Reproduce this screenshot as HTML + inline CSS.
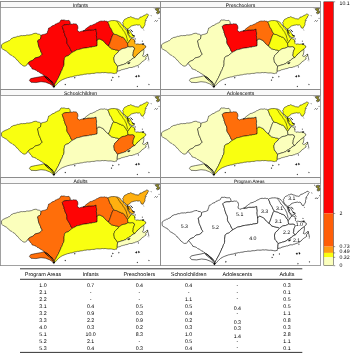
<!DOCTYPE html>
<html><head><meta charset="utf-8"><title>Figure</title>
<style>html,body{margin:0;padding:0;background:#fff}svg{display:block}text{text-rendering:geometricPrecision}</style></head><body>
<svg width="350" height="354" viewBox="0 0 350 354" font-family="'Liberation Sans', sans-serif">
<rect width="350" height="354" fill="#fff"/>
<g transform="translate(0.00,0.00)">
<g transform="translate(0.00,0.00)">
<g stroke="#000" stroke-width="0.50" stroke-linejoin="round">
<polygon fill="#F9FF10" points="1.5,44.8 3.0,43.6 3.9,43.0 5.0,42.6 6.0,41.9 7.2,41.8 8.2,40.9 9.4,40.7 10.4,39.7 11.3,38.6 12.5,38.1 13.7,37.4 15.1,37.3 16.3,36.9 17.5,36.3 18.8,36.4 20.0,35.9 21.3,35.6 22.6,35.7 23.9,35.5 25.1,35.7 26.4,35.1 27.6,35.0 28.9,35.1 30.2,34.8 31.5,34.6 32.7,34.0 33.9,33.5 35.2,33.3 36.5,33.2 37.2,34.0 38.3,34.1 39.8,34.4 40.9,35.4 41.0,36.6 40.7,37.7 40.5,38.8 39.6,39.5 38.6,40.0 37.7,40.7 37.7,41.8 38.1,42.8 38.3,43.9 38.4,45.1 38.7,46.2 39.1,47.3 39.6,48.3 40.1,49.5 40.6,50.7 40.9,52.0 41.7,53.0 42.2,54.2 41.3,55.2 40.2,56.2 39.1,57.0 38.0,57.3 36.9,57.5 35.8,57.8 34.7,58.3 33.8,59.3 32.9,60.2 31.6,60.7 30.3,61.3 29.1,62.0 28.1,63.3 27.2,64.0 26.8,65.1 25.9,65.8 24.1,66.2 22.7,65.6 21.5,64.5 20.3,63.7 19.3,62.5 18.4,61.4 17.7,60.4 16.6,59.8 16.0,58.7 15.1,57.9 14.2,57.1 13.1,56.6 12.3,55.8 11.3,55.2 10.1,54.7 9.2,53.9 8.3,53.0 7.5,52.0 6.3,51.1 5.0,50.5 3.8,49.7 2.6,49.1 1.6,48.2 1.6,47.1 1.5,45.9"/>
<polygon fill="#FE0404" points="40.9,35.4 42.1,34.8 43.5,34.4 44.8,34.2 46.1,33.7 47.3,33.1 47.4,31.8 48.0,30.6 48.3,29.4 48.6,28.1 49.8,27.7 50.9,27.0 51.8,26.1 53.0,25.6 54.4,25.3 55.3,24.1 56.7,23.7 57.7,23.1 58.9,22.8 59.9,22.1 60.3,20.9 61.1,19.9 62.6,20.1 64.1,19.9 65.5,20.4 66.6,20.5 67.8,20.5 68.9,20.3 69.9,21.6 70.4,23.3 69.8,24.2 68.6,24.6 67.3,24.5 66.0,24.6 64.7,24.9 63.5,25.2 62.3,26.5 62.6,27.8 63.1,29.0 63.5,30.2 64.0,31.3 64.0,32.4 64.5,33.5 64.8,34.6 65.2,35.8 65.6,36.9 66.3,37.9 66.7,39.0 66.9,40.5 66.8,42.0 67.1,43.4 67.8,44.7 68.6,45.9 69.4,47.1 70.0,48.4 70.6,49.7 71.1,51.0 72.5,52.3 71.3,53.1 70.1,54.0 69.1,55.0 68.1,55.8 66.8,56.1 65.7,56.7 64.7,57.5 64.4,58.6 64.4,59.6 64.1,60.7 64.0,62.2 64.1,63.6 63.9,65.1 63.7,66.3 62.9,67.2 62.6,68.4 62.2,69.5 61.7,70.6 61.0,71.7 60.7,72.9 60.1,73.9 59.7,75.1 59.0,76.2 58.6,77.4 57.9,78.6 57.3,79.7 56.6,80.8 56.1,82.1 55.3,83.3 54.7,84.6 54.4,85.8 53.9,86.9 53.8,85.4 53.6,84.0 52.9,82.6 51.7,81.5 50.7,80.8 49.9,79.8 48.9,79.1 47.9,78.4 46.8,77.6 45.7,76.8 44.8,75.8 43.5,75.2 42.5,74.1 41.0,73.5 39.8,72.7 38.6,71.8 37.1,71.3 36.0,70.2 34.8,69.7 33.5,69.3 32.2,69.0 31.6,67.5 30.3,66.4 29.8,65.2 28.7,64.4 28.1,63.3 29.1,62.0 30.3,61.3 31.6,60.7 32.9,60.2 33.8,59.3 34.7,58.3 35.8,57.8 36.9,57.5 38.0,57.3 39.1,57.0 40.2,56.2 41.3,55.2 42.2,54.2 41.7,53.0 40.9,52.0 40.6,50.7 40.1,49.5 39.6,48.3 39.1,47.3 38.7,46.2 38.4,45.1 38.3,43.9 38.1,42.8 37.7,41.8 37.7,40.7 38.6,40.0 39.6,39.5 40.5,38.8 40.7,37.7 41.0,36.6"/>
<polygon fill="#FE0404" points="69.8,24.2 71.1,24.1 72.3,24.2 73.6,23.7 74.8,23.9 76.1,23.9 77.0,24.7 77.6,25.8 77.9,27.1 77.9,28.4 77.4,29.6 77.6,30.9 78.6,31.3 79.3,32.1 80.5,31.5 81.7,31.2 83.0,30.9 84.6,30.7 86.2,30.6 87.7,30.1 89.3,29.9 90.8,30.0 92.2,29.8 93.7,29.8 94.9,29.4 96.1,29.1 96.2,30.3 96.3,31.5 96.6,32.7 96.6,34.2 96.4,35.6 96.6,37.1 96.7,38.2 96.9,39.4 97.0,40.5 97.2,42.2 97.1,43.5 97.2,44.8 96.9,46.0 95.4,46.3 94.0,46.6 92.5,46.7 91.3,47.2 89.9,47.1 88.7,47.6 87.4,47.7 86.2,47.9 84.9,48.0 83.6,48.2 82.4,48.4 81.4,48.8 80.3,49.1 79.3,49.4 78.2,49.6 77.1,49.8 76.1,50.2 75.0,51.0 73.7,51.6 72.5,52.3 71.1,51.0 70.6,49.7 70.0,48.4 69.4,47.1 68.6,45.9 67.8,44.7 67.1,43.4 66.8,42.0 66.9,40.5 66.7,39.0 66.3,37.9 65.6,36.9 65.2,35.8 64.8,34.6 64.5,33.5 64.0,32.4 64.0,31.3 63.5,30.2 63.1,29.0 62.6,27.8 62.3,26.5 63.5,25.2 64.7,24.9 66.0,24.6 67.3,24.5 68.6,24.6"/>
<polygon fill="#F9FF10" points="72.5,52.3 73.7,51.6 75.0,51.0 76.1,50.2 77.1,49.8 78.2,49.6 79.3,49.4 80.3,49.1 81.4,48.8 82.4,48.4 83.6,48.2 84.9,48.0 86.2,47.9 87.4,47.7 88.7,47.6 89.9,47.1 91.3,47.2 92.5,46.7 94.0,46.6 95.4,46.3 96.9,46.0 97.2,44.8 97.1,43.5 97.2,42.2 97.0,40.5 97.8,39.5 98.9,38.8 100.7,39.4 101.8,40.0 102.9,40.5 103.9,41.3 104.8,42.6 105.8,43.8 106.7,44.5 107.6,45.3 108.5,46.0 109.6,46.8 110.4,48.0 111.5,48.8 112.5,49.0 113.4,49.4 114.5,49.5 115.5,49.9 116.6,50.0 117.8,50.3 118.9,51.0 118.0,52.0 117.3,53.0 116.3,53.7 115.5,54.6 114.6,55.5 114.4,56.6 113.9,57.7 113.9,58.8 114.2,60.4 114.4,62.0 115.1,63.0 116.0,63.8 116.7,65.1 117.6,66.2 117.3,69.0 117.2,71.3 116.8,72.2 116.6,73.2 115.5,73.2 114.5,73.6 112.9,73.3 111.4,73.0 110.1,72.9 108.9,73.0 107.6,72.9 106.4,72.7 105.1,72.5 103.7,72.7 102.3,72.5 100.8,72.8 99.4,72.9 98.0,72.8 96.6,72.8 95.3,73.1 94.0,73.4 92.6,73.4 91.3,73.5 90.0,73.9 88.6,73.9 87.3,73.8 86.0,74.2 84.8,74.2 83.6,74.4 82.4,74.8 81.2,74.9 80.0,75.0 78.9,75.4 77.7,75.3 76.5,75.7 75.4,75.9 74.1,76.1 72.9,76.6 71.6,76.9 70.3,77.0 69.1,77.4 67.8,77.6 66.6,78.1 65.3,78.5 64.1,79.0 62.8,79.5 61.5,80.2 60.3,80.9 59.5,81.7 58.6,82.4 57.8,83.2 56.9,84.2 56.0,85.2 55.1,86.2 53.9,86.9 54.4,85.8 54.7,84.6 55.3,83.3 56.1,82.1 56.6,80.8 57.3,79.7 57.9,78.6 58.6,77.4 59.0,76.2 59.7,75.1 60.1,73.9 60.7,72.9 61.0,71.7 61.7,70.6 62.2,69.5 62.6,68.4 62.9,67.2 63.7,66.3 63.9,65.1 64.1,63.6 64.0,62.2 64.1,60.7 64.4,59.6 64.4,58.6 64.7,57.5 65.7,56.7 66.8,56.1 68.1,55.8 69.1,55.0 70.1,54.0 71.3,53.1"/>
<polygon fill="#FE0404" points="83.0,30.9 84.1,30.7 85.0,30.0 85.7,28.8 86.9,28.1 87.9,27.2 89.1,26.5 90.1,25.6 91.4,25.4 92.6,25.0 93.8,24.3 95.2,23.9 96.3,22.9 97.6,22.5 98.8,21.8 100.1,21.2 101.6,21.0 103.1,21.2 104.5,20.8 105.7,21.3 107.0,21.2 107.9,22.0 108.5,23.4 109.1,24.8 109.5,26.2 110.0,27.3 110.8,28.3 111.4,29.4 111.9,30.4 112.3,31.5 112.9,32.5 113.7,33.8 112.7,35.0 112.1,36.3 111.7,37.6 111.2,38.8 110.8,40.1 110.4,41.3 109.9,42.6 109.5,43.8 108.9,44.9 108.5,46.0 107.6,45.3 106.7,44.5 105.8,43.8 104.8,42.6 103.9,41.3 102.9,40.5 101.8,40.0 100.7,39.4 98.9,38.8 97.8,39.5 97.0,40.5 96.9,39.4 96.7,38.2 96.6,37.1 96.4,35.6 96.6,34.2 96.6,32.7 96.3,31.5 96.2,30.3 96.1,29.1 94.9,29.4 93.7,29.8 92.2,29.8 90.8,30.0 89.3,29.9 87.7,30.1 86.2,30.6 84.6,30.7"/>
<polygon fill="#FF6E0A" points="113.7,33.8 115.1,34.4 116.6,34.6 117.8,35.2 119.0,35.9 120.3,36.3 121.3,36.9 122.5,37.1 123.5,37.7 124.4,38.5 125.0,39.5 125.7,40.5 126.2,41.5 127.1,42.3 127.6,43.4 127.8,45.2 128.0,46.6 127.1,47.3 126.0,47.8 124.7,48.3 123.3,48.4 122.0,48.8 120.5,49.8 119.6,50.3 118.9,51.0 117.8,50.3 116.6,50.0 115.5,49.9 114.5,49.5 113.4,49.4 112.5,49.0 111.5,48.8 110.4,48.0 109.6,46.8 108.5,46.0 108.9,44.9 109.5,43.8 109.9,42.6 110.4,41.3 110.8,40.1 111.2,38.8 111.7,37.6 112.1,36.3 112.7,35.0"/>
<polygon fill="#F9FF10" points="107.9,22.0 108.8,21.3 110.0,21.0 111.4,20.6 112.8,20.6 114.4,20.5 115.9,20.8 117.2,20.9 118.5,21.4 119.4,21.9 120.3,22.5 120.9,23.5 121.7,24.3 122.2,25.3 123.4,26.2 124.1,27.5 125.0,28.6 126.1,29.5 127.0,30.6 127.4,31.9 127.8,33.2 128.2,34.7 129.2,35.9 129.6,37.0 130.3,38.0 131.4,38.6 130.0,40.0 128.8,42.0 127.6,43.4 127.1,42.3 126.2,41.5 125.7,40.5 125.0,39.5 124.4,38.5 123.5,37.7 122.5,37.1 121.3,36.9 120.3,36.3 119.0,35.9 117.8,35.2 116.6,34.6 115.1,34.4 113.7,33.8 112.9,32.5 112.3,31.5 111.9,30.4 111.4,29.4 110.8,28.3 110.0,27.3 109.5,26.2 109.1,24.8 108.5,23.4"/>
<polygon fill="#FBFFBC" points="128.0,46.6 129.0,46.7 130.0,46.8 131.2,46.7 132.4,46.6 134.0,47.3 134.6,48.0 134.5,49.1 134.0,50.0 133.5,51.3 133.2,52.6 133.2,53.9 132.8,55.2 133.5,56.6 134.8,57.5 133.2,58.2 131.6,59.2 130.4,60.6 129.3,61.0 128.4,61.8 126.8,62.4 125.6,63.8 124.4,64.0 123.2,64.6 122.0,64.8 120.9,65.2 119.8,65.5 118.7,65.9 117.6,66.2 116.7,65.1 116.0,63.8 115.1,63.0 114.4,62.0 114.2,60.4 113.9,58.8 113.9,57.7 114.4,56.6 114.6,55.5 115.5,54.6 116.3,53.7 117.3,53.0 118.0,52.0 118.9,51.0 119.6,50.3 120.5,49.8 122.0,48.8 123.3,48.4 124.7,48.3 126.0,47.8 127.1,47.3"/>
<polygon fill="#FBFFBC" points="117.6,66.2 118.7,65.9 119.8,65.5 120.9,65.2 122.0,64.8 123.2,64.6 124.4,64.0 125.6,63.8 126.8,62.4 128.4,61.8 129.3,61.0 130.4,60.6 131.6,59.2 133.2,58.2 134.8,57.5 135.7,56.3 136.8,55.2 137.6,54.0 138.8,53.2 139.9,52.3 140.8,51.2 141.8,50.5 142.8,49.8 143.8,49.2 143.9,50.4 143.8,51.6 143.7,52.8 143.4,54.0 143.2,55.0 142.4,55.8 143.8,56.6 145.0,56.0 146.0,55.2 146.7,54.4 147.8,54.2 147.7,55.2 147.0,56.0 146.5,56.9 145.6,57.6 146.2,59.0 144.8,59.8 143.9,60.7 142.8,61.2 142.1,62.0 141.2,62.6 140.5,63.7 139.4,64.4 138.2,65.3 136.8,65.8 135.3,66.2 134.3,66.8 133.1,66.9 132.1,67.5 130.9,67.5 129.6,67.5 128.3,68.0 127.1,68.6 125.8,68.6 124.7,69.1 123.6,69.3 122.5,69.6 121.4,69.8 120.1,70.6 118.5,70.9 117.2,71.3 117.3,69.0"/>
<polygon fill="#FFB010" points="127.6,43.4 128.8,42.0 130.0,40.0 131.4,38.6 132.7,38.9 134.0,39.2 134.5,40.2 135.2,41.2 134.9,42.2 134.8,43.2 136.0,44.4 136.9,43.9 138.0,44.0 139.6,44.3 141.2,44.0 142.5,44.5 143.8,44.6 144.6,45.5 145.8,46.0 145.6,47.6 144.5,48.2 143.8,49.2 142.8,49.8 141.8,50.5 140.8,51.2 139.9,52.3 138.8,53.2 137.6,54.0 136.8,55.2 135.7,56.3 134.8,57.5 133.5,56.6 132.8,55.2 133.2,53.9 133.2,52.6 133.5,51.3 134.0,50.0 134.5,49.1 134.6,48.0 134.0,47.3 132.4,46.6 131.2,46.7 130.0,46.8 129.0,46.7 128.0,46.6 127.8,45.2"/>
<polygon fill="#F9FF10" points="122.6,22.3 123.6,21.4 123.9,20.1 124.7,19.3 125.8,18.8 126.9,18.4 127.9,17.5 129.3,17.5 130.3,16.7 131.4,17.0 132.4,17.6 134.0,17.9 135.4,18.7 136.8,18.8 138.2,19.1 139.4,18.3 140.1,17.1 141.5,16.9 142.7,16.3 143.9,15.5 145.3,15.0 146.2,14.2 147.4,13.9 148.7,15.2 147.8,16.0 147.5,17.0 147.0,18.0 146.0,19.2 145.3,20.6 145.4,21.9 144.9,23.1 145.0,24.6 144.4,25.9 143.6,27.0 143.1,28.3 141.4,27.9 140.9,26.9 140.6,25.8 139.3,24.8 138.0,25.2 136.7,24.7 135.4,25.1 134.1,25.2 132.9,25.6 131.5,26.0 130.3,26.8 129.7,27.8 128.6,28.4 126.9,29.2 126.0,27.9 124.7,27.0 123.6,25.8 123.0,24.3 123.1,23.2"/>
<polygon fill="#FE0404" points="29.4,80.4 30.7,78.6 35.4,77.6 40.4,76.7 44.2,75.7 47.9,78.4 51.7,81.5 53.6,84.0 53.9,86.9 53.0,86.1 49.8,83.9 45.4,82.2 41.0,81.7 36.0,82.6 31.0,82.3"/>
<path fill="none" stroke-width="0.75" d="M44.3,76.2 L46.8,78.9 L49.2,80.6 L51.6,83 L53.3,85.2 M45.6,76.4 L48.2,78.2 L50.4,80.6 L52.8,82.6 M53.9,85.6 L53.9,88.1 M52.6,86.6 L55,86.4"/>
<polyline fill="none" points="116.8,21.2 117.5,22.2 118.3,23.2 118.9,24.4 119.7,25.4 120.2,26.6 121.3,27.4 122.1,28.4 122.7,29.6 123.3,30.6 124.1,31.5 124.8,32.5 125.2,33.6 125.9,34.8 126.4,36.0 126.6,37.3 127.1,38.6 127.3,39.9 127.5,41.2"/>
<path fill="#F9FF10" d="M127.3,29.8 L129.7,30.3 L131.7,33.7 L134.3,37 L132,37.8 L129.4,35.8 L127.8,33.2 Z"/>
<path fill="none" stroke-width="0.8" d="M127.2,29.2 L128.3,31.5 L129.2,33.8 M130.6,29.5 L132.8,32.0 M131.9,34.8 L135,36.1 M134.6,38.2 L135.8,39.2 M134.2,40.8 L135,41.6"/>
<path fill="#222" stroke-width="0.3" d="M127.6,63.4 L128.8,62.4 L130.2,62.4 L129.6,63.4 L128.2,64 Z M142.2,43.5 l1.6,0 l0.4,0.8 l-1.8,0.3z M138,66.6 l0.8,0.3 l-0.6,0.5z M142.1,40.8 l0.7,0.3 l-0.5,0.5z"/>
<path fill="none" d="M147.4,54.3 L148.4,57.5 L148.9,60.3 M148,60.6 L148.6,61.2"/>
<path fill="#8a8420" stroke="#444" stroke-width="0.7" d="M155.6,8.4 L157.4,7.9 L159.5,8.4 L158.4,10.0 L159.8,11.4 L159.2,13.2 L157.4,13.8 L156.2,12.8 L157.4,11.6 L156.6,10.4 L155.4,9.8 Z"/>
<path fill="none" d="M154.4,21.6 L155.6,20.4 L156.6,21.5 L157.8,20.2 M151,15.2 L151.4,16.2 M153.5,7.8 L154.6,8.2 M158.5,18.4 L159.6,18.4 M146,20 L146.3,21 M143.6,29.6 L143.9,30.4"/>
<path fill="#000" stroke-width="0.3" d="M112.5,76.9 l1,0.6 l-1,0.6z M111.3,79.6 l0.8,0.6 l-0.9,0.4z M118.6,76.2 l0.8,0.5 l-0.8,0.5z M135.3,76.5 l1,-1 l0.8,0.6 l-0.6,1.2z M138.2,75.2 l1,0.2 l0.4,1 l-1,0.6z M137,86 l0.9,0.4 l-0.7,0.6z M148.6,84 l0.8,0.6 l-0.5,0.5z M64.9,84 l1,0.5 l-0.9,0.6z M74.4,77.2 l1,0.5 l-1,0.5z"/>
</g>
</g>
<rect x="0.50" y="1.60" width="160.00" height="5.90" fill="#f9f9f9" stroke="#8a8a8a" stroke-width="0.8"/>
<rect x="0.50" y="1.60" width="160.00" height="88.00" fill="none" stroke="#8a8a8a" stroke-width="0.8"/>
<text x="80.5" y="6.6" font-size="5.05" text-anchor="middle" fill="#000">Infants</text>
</g>
<g transform="translate(160.00,0.00)">
<g transform="translate(0.00,0.00)">
<g stroke="#000" stroke-width="0.50" stroke-linejoin="round">
<polygon fill="#FBFFBC" points="1.5,44.8 3.0,43.6 3.9,43.0 5.0,42.6 6.0,41.9 7.2,41.8 8.2,40.9 9.4,40.7 10.4,39.7 11.3,38.6 12.5,38.1 13.7,37.4 15.1,37.3 16.3,36.9 17.5,36.3 18.8,36.4 20.0,35.9 21.3,35.6 22.6,35.7 23.9,35.5 25.1,35.7 26.4,35.1 27.6,35.0 28.9,35.1 30.2,34.8 31.5,34.6 32.7,34.0 33.9,33.5 35.2,33.3 36.5,33.2 37.2,34.0 38.3,34.1 39.8,34.4 40.9,35.4 41.0,36.6 40.7,37.7 40.5,38.8 39.6,39.5 38.6,40.0 37.7,40.7 37.7,41.8 38.1,42.8 38.3,43.9 38.4,45.1 38.7,46.2 39.1,47.3 39.6,48.3 40.1,49.5 40.6,50.7 40.9,52.0 41.7,53.0 42.2,54.2 41.3,55.2 40.2,56.2 39.1,57.0 38.0,57.3 36.9,57.5 35.8,57.8 34.7,58.3 33.8,59.3 32.9,60.2 31.6,60.7 30.3,61.3 29.1,62.0 28.1,63.3 27.2,64.0 26.8,65.1 25.9,65.8 24.1,66.2 22.7,65.6 21.5,64.5 20.3,63.7 19.3,62.5 18.4,61.4 17.7,60.4 16.6,59.8 16.0,58.7 15.1,57.9 14.2,57.1 13.1,56.6 12.3,55.8 11.3,55.2 10.1,54.7 9.2,53.9 8.3,53.0 7.5,52.0 6.3,51.1 5.0,50.5 3.8,49.7 2.6,49.1 1.6,48.2 1.6,47.1 1.5,45.9"/>
<polygon fill="#FBFFBC" points="40.9,35.4 42.1,34.8 43.5,34.4 44.8,34.2 46.1,33.7 47.3,33.1 47.4,31.8 48.0,30.6 48.3,29.4 48.6,28.1 49.8,27.7 50.9,27.0 51.8,26.1 53.0,25.6 54.4,25.3 55.3,24.1 56.7,23.7 57.7,23.1 58.9,22.8 59.9,22.1 60.3,20.9 61.1,19.9 62.6,20.1 64.1,19.9 65.5,20.4 66.6,20.5 67.8,20.5 68.9,20.3 69.9,21.6 70.4,23.3 69.8,24.2 68.6,24.6 67.3,24.5 66.0,24.6 64.7,24.9 63.5,25.2 62.3,26.5 62.6,27.8 63.1,29.0 63.5,30.2 64.0,31.3 64.0,32.4 64.5,33.5 64.8,34.6 65.2,35.8 65.6,36.9 66.3,37.9 66.7,39.0 66.9,40.5 66.8,42.0 67.1,43.4 67.8,44.7 68.6,45.9 69.4,47.1 70.0,48.4 70.6,49.7 71.1,51.0 72.5,52.3 71.3,53.1 70.1,54.0 69.1,55.0 68.1,55.8 66.8,56.1 65.7,56.7 64.7,57.5 64.4,58.6 64.4,59.6 64.1,60.7 64.0,62.2 64.1,63.6 63.9,65.1 63.7,66.3 62.9,67.2 62.6,68.4 62.2,69.5 61.7,70.6 61.0,71.7 60.7,72.9 60.1,73.9 59.7,75.1 59.0,76.2 58.6,77.4 57.9,78.6 57.3,79.7 56.6,80.8 56.1,82.1 55.3,83.3 54.7,84.6 54.4,85.8 53.9,86.9 53.8,85.4 53.6,84.0 52.9,82.6 51.7,81.5 50.7,80.8 49.9,79.8 48.9,79.1 47.9,78.4 46.8,77.6 45.7,76.8 44.8,75.8 43.5,75.2 42.5,74.1 41.0,73.5 39.8,72.7 38.6,71.8 37.1,71.3 36.0,70.2 34.8,69.7 33.5,69.3 32.2,69.0 31.6,67.5 30.3,66.4 29.8,65.2 28.7,64.4 28.1,63.3 29.1,62.0 30.3,61.3 31.6,60.7 32.9,60.2 33.8,59.3 34.7,58.3 35.8,57.8 36.9,57.5 38.0,57.3 39.1,57.0 40.2,56.2 41.3,55.2 42.2,54.2 41.7,53.0 40.9,52.0 40.6,50.7 40.1,49.5 39.6,48.3 39.1,47.3 38.7,46.2 38.4,45.1 38.3,43.9 38.1,42.8 37.7,41.8 37.7,40.7 38.6,40.0 39.6,39.5 40.5,38.8 40.7,37.7 41.0,36.6"/>
<polygon fill="#FE0404" points="69.8,24.2 71.1,24.1 72.3,24.2 73.6,23.7 74.8,23.9 76.1,23.9 77.0,24.7 77.6,25.8 77.9,27.1 77.9,28.4 77.4,29.6 77.6,30.9 78.6,31.3 79.3,32.1 80.5,31.5 81.7,31.2 83.0,30.9 84.6,30.7 86.2,30.6 87.7,30.1 89.3,29.9 90.8,30.0 92.2,29.8 93.7,29.8 94.9,29.4 96.1,29.1 96.2,30.3 96.3,31.5 96.6,32.7 96.6,34.2 96.4,35.6 96.6,37.1 96.7,38.2 96.9,39.4 97.0,40.5 97.2,42.2 97.1,43.5 97.2,44.8 96.9,46.0 95.4,46.3 94.0,46.6 92.5,46.7 91.3,47.2 89.9,47.1 88.7,47.6 87.4,47.7 86.2,47.9 84.9,48.0 83.6,48.2 82.4,48.4 81.4,48.8 80.3,49.1 79.3,49.4 78.2,49.6 77.1,49.8 76.1,50.2 75.0,51.0 73.7,51.6 72.5,52.3 71.1,51.0 70.6,49.7 70.0,48.4 69.4,47.1 68.6,45.9 67.8,44.7 67.1,43.4 66.8,42.0 66.9,40.5 66.7,39.0 66.3,37.9 65.6,36.9 65.2,35.8 64.8,34.6 64.5,33.5 64.0,32.4 64.0,31.3 63.5,30.2 63.1,29.0 62.6,27.8 62.3,26.5 63.5,25.2 64.7,24.9 66.0,24.6 67.3,24.5 68.6,24.6"/>
<polygon fill="#FBFFBC" points="72.5,52.3 73.7,51.6 75.0,51.0 76.1,50.2 77.1,49.8 78.2,49.6 79.3,49.4 80.3,49.1 81.4,48.8 82.4,48.4 83.6,48.2 84.9,48.0 86.2,47.9 87.4,47.7 88.7,47.6 89.9,47.1 91.3,47.2 92.5,46.7 94.0,46.6 95.4,46.3 96.9,46.0 97.2,44.8 97.1,43.5 97.2,42.2 97.0,40.5 97.8,39.5 98.9,38.8 100.7,39.4 101.8,40.0 102.9,40.5 103.9,41.3 104.8,42.6 105.8,43.8 106.7,44.5 107.6,45.3 108.5,46.0 109.6,46.8 110.4,48.0 111.5,48.8 112.5,49.0 113.4,49.4 114.5,49.5 115.5,49.9 116.6,50.0 117.8,50.3 118.9,51.0 118.0,52.0 117.3,53.0 116.3,53.7 115.5,54.6 114.6,55.5 114.4,56.6 113.9,57.7 113.9,58.8 114.2,60.4 114.4,62.0 115.1,63.0 116.0,63.8 116.7,65.1 117.6,66.2 117.3,69.0 117.2,71.3 116.8,72.2 116.6,73.2 115.5,73.2 114.5,73.6 112.9,73.3 111.4,73.0 110.1,72.9 108.9,73.0 107.6,72.9 106.4,72.7 105.1,72.5 103.7,72.7 102.3,72.5 100.8,72.8 99.4,72.9 98.0,72.8 96.6,72.8 95.3,73.1 94.0,73.4 92.6,73.4 91.3,73.5 90.0,73.9 88.6,73.9 87.3,73.8 86.0,74.2 84.8,74.2 83.6,74.4 82.4,74.8 81.2,74.9 80.0,75.0 78.9,75.4 77.7,75.3 76.5,75.7 75.4,75.9 74.1,76.1 72.9,76.6 71.6,76.9 70.3,77.0 69.1,77.4 67.8,77.6 66.6,78.1 65.3,78.5 64.1,79.0 62.8,79.5 61.5,80.2 60.3,80.9 59.5,81.7 58.6,82.4 57.8,83.2 56.9,84.2 56.0,85.2 55.1,86.2 53.9,86.9 54.4,85.8 54.7,84.6 55.3,83.3 56.1,82.1 56.6,80.8 57.3,79.7 57.9,78.6 58.6,77.4 59.0,76.2 59.7,75.1 60.1,73.9 60.7,72.9 61.0,71.7 61.7,70.6 62.2,69.5 62.6,68.4 62.9,67.2 63.7,66.3 63.9,65.1 64.1,63.6 64.0,62.2 64.1,60.7 64.4,59.6 64.4,58.6 64.7,57.5 65.7,56.7 66.8,56.1 68.1,55.8 69.1,55.0 70.1,54.0 71.3,53.1"/>
<polygon fill="#FF6E0A" points="83.0,30.9 84.1,30.7 85.0,30.0 85.7,28.8 86.9,28.1 87.9,27.2 89.1,26.5 90.1,25.6 91.4,25.4 92.6,25.0 93.8,24.3 95.2,23.9 96.3,22.9 97.6,22.5 98.8,21.8 100.1,21.2 101.6,21.0 103.1,21.2 104.5,20.8 105.7,21.3 107.0,21.2 107.9,22.0 108.5,23.4 109.1,24.8 109.5,26.2 110.0,27.3 110.8,28.3 111.4,29.4 111.9,30.4 112.3,31.5 112.9,32.5 113.7,33.8 112.7,35.0 112.1,36.3 111.7,37.6 111.2,38.8 110.8,40.1 110.4,41.3 109.9,42.6 109.5,43.8 108.9,44.9 108.5,46.0 107.6,45.3 106.7,44.5 105.8,43.8 104.8,42.6 103.9,41.3 102.9,40.5 101.8,40.0 100.7,39.4 98.9,38.8 97.8,39.5 97.0,40.5 96.9,39.4 96.7,38.2 96.6,37.1 96.4,35.6 96.6,34.2 96.6,32.7 96.3,31.5 96.2,30.3 96.1,29.1 94.9,29.4 93.7,29.8 92.2,29.8 90.8,30.0 89.3,29.9 87.7,30.1 86.2,30.6 84.6,30.7"/>
<polygon fill="#F9FF10" points="113.7,33.8 115.1,34.4 116.6,34.6 117.8,35.2 119.0,35.9 120.3,36.3 121.3,36.9 122.5,37.1 123.5,37.7 124.4,38.5 125.0,39.5 125.7,40.5 126.2,41.5 127.1,42.3 127.6,43.4 127.8,45.2 128.0,46.6 127.1,47.3 126.0,47.8 124.7,48.3 123.3,48.4 122.0,48.8 120.5,49.8 119.6,50.3 118.9,51.0 117.8,50.3 116.6,50.0 115.5,49.9 114.5,49.5 113.4,49.4 112.5,49.0 111.5,48.8 110.4,48.0 109.6,46.8 108.5,46.0 108.9,44.9 109.5,43.8 109.9,42.6 110.4,41.3 110.8,40.1 111.2,38.8 111.7,37.6 112.1,36.3 112.7,35.0"/>
<polygon fill="#F9FF10" points="107.9,22.0 108.8,21.3 110.0,21.0 111.4,20.6 112.8,20.6 114.4,20.5 115.9,20.8 117.2,20.9 118.5,21.4 119.4,21.9 120.3,22.5 120.9,23.5 121.7,24.3 122.2,25.3 123.4,26.2 124.1,27.5 125.0,28.6 126.1,29.5 127.0,30.6 127.4,31.9 127.8,33.2 128.2,34.7 129.2,35.9 129.6,37.0 130.3,38.0 131.4,38.6 130.0,40.0 128.8,42.0 127.6,43.4 127.1,42.3 126.2,41.5 125.7,40.5 125.0,39.5 124.4,38.5 123.5,37.7 122.5,37.1 121.3,36.9 120.3,36.3 119.0,35.9 117.8,35.2 116.6,34.6 115.1,34.4 113.7,33.8 112.9,32.5 112.3,31.5 111.9,30.4 111.4,29.4 110.8,28.3 110.0,27.3 109.5,26.2 109.1,24.8 108.5,23.4"/>
<polygon fill="#FBFFBC" points="128.0,46.6 129.0,46.7 130.0,46.8 131.2,46.7 132.4,46.6 134.0,47.3 134.6,48.0 134.5,49.1 134.0,50.0 133.5,51.3 133.2,52.6 133.2,53.9 132.8,55.2 133.5,56.6 134.8,57.5 133.2,58.2 131.6,59.2 130.4,60.6 129.3,61.0 128.4,61.8 126.8,62.4 125.6,63.8 124.4,64.0 123.2,64.6 122.0,64.8 120.9,65.2 119.8,65.5 118.7,65.9 117.6,66.2 116.7,65.1 116.0,63.8 115.1,63.0 114.4,62.0 114.2,60.4 113.9,58.8 113.9,57.7 114.4,56.6 114.6,55.5 115.5,54.6 116.3,53.7 117.3,53.0 118.0,52.0 118.9,51.0 119.6,50.3 120.5,49.8 122.0,48.8 123.3,48.4 124.7,48.3 126.0,47.8 127.1,47.3"/>
<polygon fill="#FBFFBC" points="117.6,66.2 118.7,65.9 119.8,65.5 120.9,65.2 122.0,64.8 123.2,64.6 124.4,64.0 125.6,63.8 126.8,62.4 128.4,61.8 129.3,61.0 130.4,60.6 131.6,59.2 133.2,58.2 134.8,57.5 135.7,56.3 136.8,55.2 137.6,54.0 138.8,53.2 139.9,52.3 140.8,51.2 141.8,50.5 142.8,49.8 143.8,49.2 143.9,50.4 143.8,51.6 143.7,52.8 143.4,54.0 143.2,55.0 142.4,55.8 143.8,56.6 145.0,56.0 146.0,55.2 146.7,54.4 147.8,54.2 147.7,55.2 147.0,56.0 146.5,56.9 145.6,57.6 146.2,59.0 144.8,59.8 143.9,60.7 142.8,61.2 142.1,62.0 141.2,62.6 140.5,63.7 139.4,64.4 138.2,65.3 136.8,65.8 135.3,66.2 134.3,66.8 133.1,66.9 132.1,67.5 130.9,67.5 129.6,67.5 128.3,68.0 127.1,68.6 125.8,68.6 124.7,69.1 123.6,69.3 122.5,69.6 121.4,69.8 120.1,70.6 118.5,70.9 117.2,71.3 117.3,69.0"/>
<polygon fill="#F9FF10" points="127.6,43.4 128.8,42.0 130.0,40.0 131.4,38.6 132.7,38.9 134.0,39.2 134.5,40.2 135.2,41.2 134.9,42.2 134.8,43.2 136.0,44.4 136.9,43.9 138.0,44.0 139.6,44.3 141.2,44.0 142.5,44.5 143.8,44.6 144.6,45.5 145.8,46.0 145.6,47.6 144.5,48.2 143.8,49.2 142.8,49.8 141.8,50.5 140.8,51.2 139.9,52.3 138.8,53.2 137.6,54.0 136.8,55.2 135.7,56.3 134.8,57.5 133.5,56.6 132.8,55.2 133.2,53.9 133.2,52.6 133.5,51.3 134.0,50.0 134.5,49.1 134.6,48.0 134.0,47.3 132.4,46.6 131.2,46.7 130.0,46.8 129.0,46.7 128.0,46.6 127.8,45.2"/>
<polygon fill="#F9FF10" points="122.6,22.3 123.6,21.4 123.9,20.1 124.7,19.3 125.8,18.8 126.9,18.4 127.9,17.5 129.3,17.5 130.3,16.7 131.4,17.0 132.4,17.6 134.0,17.9 135.4,18.7 136.8,18.8 138.2,19.1 139.4,18.3 140.1,17.1 141.5,16.9 142.7,16.3 143.9,15.5 145.3,15.0 146.2,14.2 147.4,13.9 148.7,15.2 147.8,16.0 147.5,17.0 147.0,18.0 146.0,19.2 145.3,20.6 145.4,21.9 144.9,23.1 145.0,24.6 144.4,25.9 143.6,27.0 143.1,28.3 141.4,27.9 140.9,26.9 140.6,25.8 139.3,24.8 138.0,25.2 136.7,24.7 135.4,25.1 134.1,25.2 132.9,25.6 131.5,26.0 130.3,26.8 129.7,27.8 128.6,28.4 126.9,29.2 126.0,27.9 124.7,27.0 123.6,25.8 123.0,24.3 123.1,23.2"/>
<polygon fill="#FBFFBC" points="29.4,80.4 30.7,78.6 35.4,77.6 40.4,76.7 44.2,75.7 47.9,78.4 51.7,81.5 53.6,84.0 53.9,86.9 53.0,86.1 49.8,83.9 45.4,82.2 41.0,81.7 36.0,82.6 31.0,82.3"/>
<path fill="none" stroke-width="0.75" d="M44.3,76.2 L46.8,78.9 L49.2,80.6 L51.6,83 L53.3,85.2 M45.6,76.4 L48.2,78.2 L50.4,80.6 L52.8,82.6 M53.9,85.6 L53.9,88.1 M52.6,86.6 L55,86.4"/>
<polyline fill="none" points="116.8,21.2 117.5,22.2 118.3,23.2 118.9,24.4 119.7,25.4 120.2,26.6 121.3,27.4 122.1,28.4 122.7,29.6 123.3,30.6 124.1,31.5 124.8,32.5 125.2,33.6 125.9,34.8 126.4,36.0 126.6,37.3 127.1,38.6 127.3,39.9 127.5,41.2"/>
<path fill="#F9FF10" d="M127.3,29.8 L129.7,30.3 L131.7,33.7 L134.3,37 L132,37.8 L129.4,35.8 L127.8,33.2 Z"/>
<path fill="none" stroke-width="0.8" d="M127.2,29.2 L128.3,31.5 L129.2,33.8 M130.6,29.5 L132.8,32.0 M131.9,34.8 L135,36.1 M134.6,38.2 L135.8,39.2 M134.2,40.8 L135,41.6"/>
<path fill="#222" stroke-width="0.3" d="M127.6,63.4 L128.8,62.4 L130.2,62.4 L129.6,63.4 L128.2,64 Z M142.2,43.5 l1.6,0 l0.4,0.8 l-1.8,0.3z M138,66.6 l0.8,0.3 l-0.6,0.5z M142.1,40.8 l0.7,0.3 l-0.5,0.5z"/>
<path fill="none" d="M147.4,54.3 L148.4,57.5 L148.9,60.3 M148,60.6 L148.6,61.2"/>
<path fill="#8a8420" stroke="#444" stroke-width="0.7" d="M155.6,8.4 L157.4,7.9 L159.5,8.4 L158.4,10.0 L159.8,11.4 L159.2,13.2 L157.4,13.8 L156.2,12.8 L157.4,11.6 L156.6,10.4 L155.4,9.8 Z"/>
<path fill="none" d="M154.4,21.6 L155.6,20.4 L156.6,21.5 L157.8,20.2 M151,15.2 L151.4,16.2 M153.5,7.8 L154.6,8.2 M158.5,18.4 L159.6,18.4 M146,20 L146.3,21 M143.6,29.6 L143.9,30.4"/>
<path fill="#000" stroke-width="0.3" d="M112.5,76.9 l1,0.6 l-1,0.6z M111.3,79.6 l0.8,0.6 l-0.9,0.4z M118.6,76.2 l0.8,0.5 l-0.8,0.5z M135.3,76.5 l1,-1 l0.8,0.6 l-0.6,1.2z M138.2,75.2 l1,0.2 l0.4,1 l-1,0.6z M137,86 l0.9,0.4 l-0.7,0.6z M148.6,84 l0.8,0.6 l-0.5,0.5z M64.9,84 l1,0.5 l-0.9,0.6z M74.4,77.2 l1,0.5 l-1,0.5z"/>
</g>
</g>
<rect x="0.50" y="1.60" width="160.00" height="5.90" fill="#f9f9f9" stroke="#8a8a8a" stroke-width="0.8"/>
<rect x="0.50" y="1.60" width="160.00" height="88.00" fill="none" stroke="#8a8a8a" stroke-width="0.8"/>
<text x="80.5" y="6.6" font-size="5.05" text-anchor="middle" fill="#000">Preschoolers</text>
</g>
<g transform="translate(0.00,88.00)">
<g transform="translate(0.00,0.00)">
<g stroke="#000" stroke-width="0.50" stroke-linejoin="round">
<polygon fill="#F9FF10" points="1.5,44.8 3.0,43.6 3.9,43.0 5.0,42.6 6.0,41.9 7.2,41.8 8.2,40.9 9.4,40.7 10.4,39.7 11.3,38.6 12.5,38.1 13.7,37.4 15.1,37.3 16.3,36.9 17.5,36.3 18.8,36.4 20.0,35.9 21.3,35.6 22.6,35.7 23.9,35.5 25.1,35.7 26.4,35.1 27.6,35.0 28.9,35.1 30.2,34.8 31.5,34.6 32.7,34.0 33.9,33.5 35.2,33.3 36.5,33.2 37.2,34.0 38.3,34.1 39.8,34.4 40.9,35.4 41.0,36.6 40.7,37.7 40.5,38.8 39.6,39.5 38.6,40.0 37.7,40.7 37.7,41.8 38.1,42.8 38.3,43.9 38.4,45.1 38.7,46.2 39.1,47.3 39.6,48.3 40.1,49.5 40.6,50.7 40.9,52.0 41.7,53.0 42.2,54.2 41.3,55.2 40.2,56.2 39.1,57.0 38.0,57.3 36.9,57.5 35.8,57.8 34.7,58.3 33.8,59.3 32.9,60.2 31.6,60.7 30.3,61.3 29.1,62.0 28.1,63.3 27.2,64.0 26.8,65.1 25.9,65.8 24.1,66.2 22.7,65.6 21.5,64.5 20.3,63.7 19.3,62.5 18.4,61.4 17.7,60.4 16.6,59.8 16.0,58.7 15.1,57.9 14.2,57.1 13.1,56.6 12.3,55.8 11.3,55.2 10.1,54.7 9.2,53.9 8.3,53.0 7.5,52.0 6.3,51.1 5.0,50.5 3.8,49.7 2.6,49.1 1.6,48.2 1.6,47.1 1.5,45.9"/>
<polygon fill="#F9FF10" points="40.9,35.4 42.1,34.8 43.5,34.4 44.8,34.2 46.1,33.7 47.3,33.1 47.4,31.8 48.0,30.6 48.3,29.4 48.6,28.1 49.8,27.7 50.9,27.0 51.8,26.1 53.0,25.6 54.4,25.3 55.3,24.1 56.7,23.7 57.7,23.1 58.9,22.8 59.9,22.1 60.3,20.9 61.1,19.9 62.6,20.1 64.1,19.9 65.5,20.4 66.6,20.5 67.8,20.5 68.9,20.3 69.9,21.6 70.4,23.3 69.8,24.2 68.6,24.6 67.3,24.5 66.0,24.6 64.7,24.9 63.5,25.2 62.3,26.5 62.6,27.8 63.1,29.0 63.5,30.2 64.0,31.3 64.0,32.4 64.5,33.5 64.8,34.6 65.2,35.8 65.6,36.9 66.3,37.9 66.7,39.0 66.9,40.5 66.8,42.0 67.1,43.4 67.8,44.7 68.6,45.9 69.4,47.1 70.0,48.4 70.6,49.7 71.1,51.0 72.5,52.3 71.3,53.1 70.1,54.0 69.1,55.0 68.1,55.8 66.8,56.1 65.7,56.7 64.7,57.5 64.4,58.6 64.4,59.6 64.1,60.7 64.0,62.2 64.1,63.6 63.9,65.1 63.7,66.3 62.9,67.2 62.6,68.4 62.2,69.5 61.7,70.6 61.0,71.7 60.7,72.9 60.1,73.9 59.7,75.1 59.0,76.2 58.6,77.4 57.9,78.6 57.3,79.7 56.6,80.8 56.1,82.1 55.3,83.3 54.7,84.6 54.4,85.8 53.9,86.9 53.8,85.4 53.6,84.0 52.9,82.6 51.7,81.5 50.7,80.8 49.9,79.8 48.9,79.1 47.9,78.4 46.8,77.6 45.7,76.8 44.8,75.8 43.5,75.2 42.5,74.1 41.0,73.5 39.8,72.7 38.6,71.8 37.1,71.3 36.0,70.2 34.8,69.7 33.5,69.3 32.2,69.0 31.6,67.5 30.3,66.4 29.8,65.2 28.7,64.4 28.1,63.3 29.1,62.0 30.3,61.3 31.6,60.7 32.9,60.2 33.8,59.3 34.7,58.3 35.8,57.8 36.9,57.5 38.0,57.3 39.1,57.0 40.2,56.2 41.3,55.2 42.2,54.2 41.7,53.0 40.9,52.0 40.6,50.7 40.1,49.5 39.6,48.3 39.1,47.3 38.7,46.2 38.4,45.1 38.3,43.9 38.1,42.8 37.7,41.8 37.7,40.7 38.6,40.0 39.6,39.5 40.5,38.8 40.7,37.7 41.0,36.6"/>
<polygon fill="#FF6E0A" points="69.8,24.2 71.1,24.1 72.3,24.2 73.6,23.7 74.8,23.9 76.1,23.9 77.0,24.7 77.6,25.8 77.9,27.1 77.9,28.4 77.4,29.6 77.6,30.9 78.6,31.3 79.3,32.1 80.5,31.5 81.7,31.2 83.0,30.9 84.6,30.7 86.2,30.6 87.7,30.1 89.3,29.9 90.8,30.0 92.2,29.8 93.7,29.8 94.9,29.4 96.1,29.1 96.2,30.3 96.3,31.5 96.6,32.7 96.6,34.2 96.4,35.6 96.6,37.1 96.7,38.2 96.9,39.4 97.0,40.5 97.2,42.2 97.1,43.5 97.2,44.8 96.9,46.0 95.4,46.3 94.0,46.6 92.5,46.7 91.3,47.2 89.9,47.1 88.7,47.6 87.4,47.7 86.2,47.9 84.9,48.0 83.6,48.2 82.4,48.4 81.4,48.8 80.3,49.1 79.3,49.4 78.2,49.6 77.1,49.8 76.1,50.2 75.0,51.0 73.7,51.6 72.5,52.3 71.1,51.0 70.6,49.7 70.0,48.4 69.4,47.1 68.6,45.9 67.8,44.7 67.1,43.4 66.8,42.0 66.9,40.5 66.7,39.0 66.3,37.9 65.6,36.9 65.2,35.8 64.8,34.6 64.5,33.5 64.0,32.4 64.0,31.3 63.5,30.2 63.1,29.0 62.6,27.8 62.3,26.5 63.5,25.2 64.7,24.9 66.0,24.6 67.3,24.5 68.6,24.6"/>
<polygon fill="#FBFFBC" points="72.5,52.3 73.7,51.6 75.0,51.0 76.1,50.2 77.1,49.8 78.2,49.6 79.3,49.4 80.3,49.1 81.4,48.8 82.4,48.4 83.6,48.2 84.9,48.0 86.2,47.9 87.4,47.7 88.7,47.6 89.9,47.1 91.3,47.2 92.5,46.7 94.0,46.6 95.4,46.3 96.9,46.0 97.2,44.8 97.1,43.5 97.2,42.2 97.0,40.5 97.8,39.5 98.9,38.8 100.7,39.4 101.8,40.0 102.9,40.5 103.9,41.3 104.8,42.6 105.8,43.8 106.7,44.5 107.6,45.3 108.5,46.0 109.6,46.8 110.4,48.0 111.5,48.8 112.5,49.0 113.4,49.4 114.5,49.5 115.5,49.9 116.6,50.0 117.8,50.3 118.9,51.0 118.0,52.0 117.3,53.0 116.3,53.7 115.5,54.6 114.6,55.5 114.4,56.6 113.9,57.7 113.9,58.8 114.2,60.4 114.4,62.0 115.1,63.0 116.0,63.8 116.7,65.1 117.6,66.2 117.3,69.0 117.2,71.3 116.8,72.2 116.6,73.2 115.5,73.2 114.5,73.6 112.9,73.3 111.4,73.0 110.1,72.9 108.9,73.0 107.6,72.9 106.4,72.7 105.1,72.5 103.7,72.7 102.3,72.5 100.8,72.8 99.4,72.9 98.0,72.8 96.6,72.8 95.3,73.1 94.0,73.4 92.6,73.4 91.3,73.5 90.0,73.9 88.6,73.9 87.3,73.8 86.0,74.2 84.8,74.2 83.6,74.4 82.4,74.8 81.2,74.9 80.0,75.0 78.9,75.4 77.7,75.3 76.5,75.7 75.4,75.9 74.1,76.1 72.9,76.6 71.6,76.9 70.3,77.0 69.1,77.4 67.8,77.6 66.6,78.1 65.3,78.5 64.1,79.0 62.8,79.5 61.5,80.2 60.3,80.9 59.5,81.7 58.6,82.4 57.8,83.2 56.9,84.2 56.0,85.2 55.1,86.2 53.9,86.9 54.4,85.8 54.7,84.6 55.3,83.3 56.1,82.1 56.6,80.8 57.3,79.7 57.9,78.6 58.6,77.4 59.0,76.2 59.7,75.1 60.1,73.9 60.7,72.9 61.0,71.7 61.7,70.6 62.2,69.5 62.6,68.4 62.9,67.2 63.7,66.3 63.9,65.1 64.1,63.6 64.0,62.2 64.1,60.7 64.4,59.6 64.4,58.6 64.7,57.5 65.7,56.7 66.8,56.1 68.1,55.8 69.1,55.0 70.1,54.0 71.3,53.1"/>
<polygon fill="#FBFFBC" points="83.0,30.9 84.1,30.7 85.0,30.0 85.7,28.8 86.9,28.1 87.9,27.2 89.1,26.5 90.1,25.6 91.4,25.4 92.6,25.0 93.8,24.3 95.2,23.9 96.3,22.9 97.6,22.5 98.8,21.8 100.1,21.2 101.6,21.0 103.1,21.2 104.5,20.8 105.7,21.3 107.0,21.2 107.9,22.0 108.5,23.4 109.1,24.8 109.5,26.2 110.0,27.3 110.8,28.3 111.4,29.4 111.9,30.4 112.3,31.5 112.9,32.5 113.7,33.8 112.7,35.0 112.1,36.3 111.7,37.6 111.2,38.8 110.8,40.1 110.4,41.3 109.9,42.6 109.5,43.8 108.9,44.9 108.5,46.0 107.6,45.3 106.7,44.5 105.8,43.8 104.8,42.6 103.9,41.3 102.9,40.5 101.8,40.0 100.7,39.4 98.9,38.8 97.8,39.5 97.0,40.5 96.9,39.4 96.7,38.2 96.6,37.1 96.4,35.6 96.6,34.2 96.6,32.7 96.3,31.5 96.2,30.3 96.1,29.1 94.9,29.4 93.7,29.8 92.2,29.8 90.8,30.0 89.3,29.9 87.7,30.1 86.2,30.6 84.6,30.7"/>
<polygon fill="#F9FF10" points="113.7,33.8 115.1,34.4 116.6,34.6 117.8,35.2 119.0,35.9 120.3,36.3 121.3,36.9 122.5,37.1 123.5,37.7 124.4,38.5 125.0,39.5 125.7,40.5 126.2,41.5 127.1,42.3 127.6,43.4 127.8,45.2 128.0,46.6 127.1,47.3 126.0,47.8 124.7,48.3 123.3,48.4 122.0,48.8 120.5,49.8 119.6,50.3 118.9,51.0 117.8,50.3 116.6,50.0 115.5,49.9 114.5,49.5 113.4,49.4 112.5,49.0 111.5,48.8 110.4,48.0 109.6,46.8 108.5,46.0 108.9,44.9 109.5,43.8 109.9,42.6 110.4,41.3 110.8,40.1 111.2,38.8 111.7,37.6 112.1,36.3 112.7,35.0"/>
<polygon fill="#F9FF10" points="107.9,22.0 108.8,21.3 110.0,21.0 111.4,20.6 112.8,20.6 114.4,20.5 115.9,20.8 117.2,20.9 118.5,21.4 119.4,21.9 120.3,22.5 120.9,23.5 121.7,24.3 122.2,25.3 123.4,26.2 124.1,27.5 125.0,28.6 126.1,29.5 127.0,30.6 127.4,31.9 127.8,33.2 128.2,34.7 129.2,35.9 129.6,37.0 130.3,38.0 131.4,38.6 130.0,40.0 128.8,42.0 127.6,43.4 127.1,42.3 126.2,41.5 125.7,40.5 125.0,39.5 124.4,38.5 123.5,37.7 122.5,37.1 121.3,36.9 120.3,36.3 119.0,35.9 117.8,35.2 116.6,34.6 115.1,34.4 113.7,33.8 112.9,32.5 112.3,31.5 111.9,30.4 111.4,29.4 110.8,28.3 110.0,27.3 109.5,26.2 109.1,24.8 108.5,23.4"/>
<polygon fill="#FF6E0A" points="128.0,46.6 129.0,46.7 130.0,46.8 131.2,46.7 132.4,46.6 134.0,47.3 134.6,48.0 134.5,49.1 134.0,50.0 133.5,51.3 133.2,52.6 133.2,53.9 132.8,55.2 133.5,56.6 134.8,57.5 133.2,58.2 131.6,59.2 130.4,60.6 129.3,61.0 128.4,61.8 126.8,62.4 125.6,63.8 124.4,64.0 123.2,64.6 122.0,64.8 120.9,65.2 119.8,65.5 118.7,65.9 117.6,66.2 116.7,65.1 116.0,63.8 115.1,63.0 114.4,62.0 114.2,60.4 113.9,58.8 113.9,57.7 114.4,56.6 114.6,55.5 115.5,54.6 116.3,53.7 117.3,53.0 118.0,52.0 118.9,51.0 119.6,50.3 120.5,49.8 122.0,48.8 123.3,48.4 124.7,48.3 126.0,47.8 127.1,47.3"/>
<polygon fill="#FBFFBC" points="117.6,66.2 118.7,65.9 119.8,65.5 120.9,65.2 122.0,64.8 123.2,64.6 124.4,64.0 125.6,63.8 126.8,62.4 128.4,61.8 129.3,61.0 130.4,60.6 131.6,59.2 133.2,58.2 134.8,57.5 135.7,56.3 136.8,55.2 137.6,54.0 138.8,53.2 139.9,52.3 140.8,51.2 141.8,50.5 142.8,49.8 143.8,49.2 143.9,50.4 143.8,51.6 143.7,52.8 143.4,54.0 143.2,55.0 142.4,55.8 143.8,56.6 145.0,56.0 146.0,55.2 146.7,54.4 147.8,54.2 147.7,55.2 147.0,56.0 146.5,56.9 145.6,57.6 146.2,59.0 144.8,59.8 143.9,60.7 142.8,61.2 142.1,62.0 141.2,62.6 140.5,63.7 139.4,64.4 138.2,65.3 136.8,65.8 135.3,66.2 134.3,66.8 133.1,66.9 132.1,67.5 130.9,67.5 129.6,67.5 128.3,68.0 127.1,68.6 125.8,68.6 124.7,69.1 123.6,69.3 122.5,69.6 121.4,69.8 120.1,70.6 118.5,70.9 117.2,71.3 117.3,69.0"/>
<polygon fill="#F9FF10" points="127.6,43.4 128.8,42.0 130.0,40.0 131.4,38.6 132.7,38.9 134.0,39.2 134.5,40.2 135.2,41.2 134.9,42.2 134.8,43.2 136.0,44.4 136.9,43.9 138.0,44.0 139.6,44.3 141.2,44.0 142.5,44.5 143.8,44.6 144.6,45.5 145.8,46.0 145.6,47.6 144.5,48.2 143.8,49.2 142.8,49.8 141.8,50.5 140.8,51.2 139.9,52.3 138.8,53.2 137.6,54.0 136.8,55.2 135.7,56.3 134.8,57.5 133.5,56.6 132.8,55.2 133.2,53.9 133.2,52.6 133.5,51.3 134.0,50.0 134.5,49.1 134.6,48.0 134.0,47.3 132.4,46.6 131.2,46.7 130.0,46.8 129.0,46.7 128.0,46.6 127.8,45.2"/>
<polygon fill="#F9FF10" points="122.6,22.3 123.6,21.4 123.9,20.1 124.7,19.3 125.8,18.8 126.9,18.4 127.9,17.5 129.3,17.5 130.3,16.7 131.4,17.0 132.4,17.6 134.0,17.9 135.4,18.7 136.8,18.8 138.2,19.1 139.4,18.3 140.1,17.1 141.5,16.9 142.7,16.3 143.9,15.5 145.3,15.0 146.2,14.2 147.4,13.9 148.7,15.2 147.8,16.0 147.5,17.0 147.0,18.0 146.0,19.2 145.3,20.6 145.4,21.9 144.9,23.1 145.0,24.6 144.4,25.9 143.6,27.0 143.1,28.3 141.4,27.9 140.9,26.9 140.6,25.8 139.3,24.8 138.0,25.2 136.7,24.7 135.4,25.1 134.1,25.2 132.9,25.6 131.5,26.0 130.3,26.8 129.7,27.8 128.6,28.4 126.9,29.2 126.0,27.9 124.7,27.0 123.6,25.8 123.0,24.3 123.1,23.2"/>
<polygon fill="#F9FF10" points="29.4,80.4 30.7,78.6 35.4,77.6 40.4,76.7 44.2,75.7 47.9,78.4 51.7,81.5 53.6,84.0 53.9,86.9 53.0,86.1 49.8,83.9 45.4,82.2 41.0,81.7 36.0,82.6 31.0,82.3"/>
<path fill="none" stroke-width="0.75" d="M44.3,76.2 L46.8,78.9 L49.2,80.6 L51.6,83 L53.3,85.2 M45.6,76.4 L48.2,78.2 L50.4,80.6 L52.8,82.6 M53.9,85.6 L53.9,88.1 M52.6,86.6 L55,86.4"/>
<polyline fill="none" points="116.8,21.2 117.5,22.2 118.3,23.2 118.9,24.4 119.7,25.4 120.2,26.6 121.3,27.4 122.1,28.4 122.7,29.6 123.3,30.6 124.1,31.5 124.8,32.5 125.2,33.6 125.9,34.8 126.4,36.0 126.6,37.3 127.1,38.6 127.3,39.9 127.5,41.2"/>
<path fill="#F9FF10" d="M127.3,29.8 L129.7,30.3 L131.7,33.7 L134.3,37 L132,37.8 L129.4,35.8 L127.8,33.2 Z"/>
<path fill="none" stroke-width="0.8" d="M127.2,29.2 L128.3,31.5 L129.2,33.8 M130.6,29.5 L132.8,32.0 M131.9,34.8 L135,36.1 M134.6,38.2 L135.8,39.2 M134.2,40.8 L135,41.6"/>
<path fill="#222" stroke-width="0.3" d="M127.6,63.4 L128.8,62.4 L130.2,62.4 L129.6,63.4 L128.2,64 Z M142.2,43.5 l1.6,0 l0.4,0.8 l-1.8,0.3z M138,66.6 l0.8,0.3 l-0.6,0.5z M142.1,40.8 l0.7,0.3 l-0.5,0.5z"/>
<path fill="none" d="M147.4,54.3 L148.4,57.5 L148.9,60.3 M148,60.6 L148.6,61.2"/>
<path fill="#8a8420" stroke="#444" stroke-width="0.7" d="M155.6,8.4 L157.4,7.9 L159.5,8.4 L158.4,10.0 L159.8,11.4 L159.2,13.2 L157.4,13.8 L156.2,12.8 L157.4,11.6 L156.6,10.4 L155.4,9.8 Z"/>
<path fill="none" d="M154.4,21.6 L155.6,20.4 L156.6,21.5 L157.8,20.2 M151,15.2 L151.4,16.2 M153.5,7.8 L154.6,8.2 M158.5,18.4 L159.6,18.4 M146,20 L146.3,21 M143.6,29.6 L143.9,30.4"/>
<path fill="#000" stroke-width="0.3" d="M112.5,76.9 l1,0.6 l-1,0.6z M111.3,79.6 l0.8,0.6 l-0.9,0.4z M118.6,76.2 l0.8,0.5 l-0.8,0.5z M135.3,76.5 l1,-1 l0.8,0.6 l-0.6,1.2z M138.2,75.2 l1,0.2 l0.4,1 l-1,0.6z M137,86 l0.9,0.4 l-0.7,0.6z M148.6,84 l0.8,0.6 l-0.5,0.5z M64.9,84 l1,0.5 l-0.9,0.6z M74.4,77.2 l1,0.5 l-1,0.5z"/>
</g>
</g>
<rect x="0.50" y="1.60" width="160.00" height="5.90" fill="#f9f9f9" stroke="#8a8a8a" stroke-width="0.8"/>
<rect x="0.50" y="1.60" width="160.00" height="88.00" fill="none" stroke="#8a8a8a" stroke-width="0.8"/>
<text x="80.5" y="6.6" font-size="5.05" text-anchor="middle" fill="#000">Schoolchildren</text>
</g>
<g transform="translate(160.00,88.00)">
<g transform="translate(0.00,0.00)">
<g stroke="#000" stroke-width="0.50" stroke-linejoin="round">
<polygon fill="#FBFFBC" points="1.5,44.8 3.0,43.6 3.9,43.0 5.0,42.6 6.0,41.9 7.2,41.8 8.2,40.9 9.4,40.7 10.4,39.7 11.3,38.6 12.5,38.1 13.7,37.4 15.1,37.3 16.3,36.9 17.5,36.3 18.8,36.4 20.0,35.9 21.3,35.6 22.6,35.7 23.9,35.5 25.1,35.7 26.4,35.1 27.6,35.0 28.9,35.1 30.2,34.8 31.5,34.6 32.7,34.0 33.9,33.5 35.2,33.3 36.5,33.2 37.2,34.0 38.3,34.1 39.8,34.4 40.9,35.4 41.0,36.6 40.7,37.7 40.5,38.8 39.6,39.5 38.6,40.0 37.7,40.7 37.7,41.8 38.1,42.8 38.3,43.9 38.4,45.1 38.7,46.2 39.1,47.3 39.6,48.3 40.1,49.5 40.6,50.7 40.9,52.0 41.7,53.0 42.2,54.2 41.3,55.2 40.2,56.2 39.1,57.0 38.0,57.3 36.9,57.5 35.8,57.8 34.7,58.3 33.8,59.3 32.9,60.2 31.6,60.7 30.3,61.3 29.1,62.0 28.1,63.3 27.2,64.0 26.8,65.1 25.9,65.8 24.1,66.2 22.7,65.6 21.5,64.5 20.3,63.7 19.3,62.5 18.4,61.4 17.7,60.4 16.6,59.8 16.0,58.7 15.1,57.9 14.2,57.1 13.1,56.6 12.3,55.8 11.3,55.2 10.1,54.7 9.2,53.9 8.3,53.0 7.5,52.0 6.3,51.1 5.0,50.5 3.8,49.7 2.6,49.1 1.6,48.2 1.6,47.1 1.5,45.9"/>
<polygon fill="#FBFFBC" points="40.9,35.4 42.1,34.8 43.5,34.4 44.8,34.2 46.1,33.7 47.3,33.1 47.4,31.8 48.0,30.6 48.3,29.4 48.6,28.1 49.8,27.7 50.9,27.0 51.8,26.1 53.0,25.6 54.4,25.3 55.3,24.1 56.7,23.7 57.7,23.1 58.9,22.8 59.9,22.1 60.3,20.9 61.1,19.9 62.6,20.1 64.1,19.9 65.5,20.4 66.6,20.5 67.8,20.5 68.9,20.3 69.9,21.6 70.4,23.3 69.8,24.2 68.6,24.6 67.3,24.5 66.0,24.6 64.7,24.9 63.5,25.2 62.3,26.5 62.6,27.8 63.1,29.0 63.5,30.2 64.0,31.3 64.0,32.4 64.5,33.5 64.8,34.6 65.2,35.8 65.6,36.9 66.3,37.9 66.7,39.0 66.9,40.5 66.8,42.0 67.1,43.4 67.8,44.7 68.6,45.9 69.4,47.1 70.0,48.4 70.6,49.7 71.1,51.0 72.5,52.3 71.3,53.1 70.1,54.0 69.1,55.0 68.1,55.8 66.8,56.1 65.7,56.7 64.7,57.5 64.4,58.6 64.4,59.6 64.1,60.7 64.0,62.2 64.1,63.6 63.9,65.1 63.7,66.3 62.9,67.2 62.6,68.4 62.2,69.5 61.7,70.6 61.0,71.7 60.7,72.9 60.1,73.9 59.7,75.1 59.0,76.2 58.6,77.4 57.9,78.6 57.3,79.7 56.6,80.8 56.1,82.1 55.3,83.3 54.7,84.6 54.4,85.8 53.9,86.9 53.8,85.4 53.6,84.0 52.9,82.6 51.7,81.5 50.7,80.8 49.9,79.8 48.9,79.1 47.9,78.4 46.8,77.6 45.7,76.8 44.8,75.8 43.5,75.2 42.5,74.1 41.0,73.5 39.8,72.7 38.6,71.8 37.1,71.3 36.0,70.2 34.8,69.7 33.5,69.3 32.2,69.0 31.6,67.5 30.3,66.4 29.8,65.2 28.7,64.4 28.1,63.3 29.1,62.0 30.3,61.3 31.6,60.7 32.9,60.2 33.8,59.3 34.7,58.3 35.8,57.8 36.9,57.5 38.0,57.3 39.1,57.0 40.2,56.2 41.3,55.2 42.2,54.2 41.7,53.0 40.9,52.0 40.6,50.7 40.1,49.5 39.6,48.3 39.1,47.3 38.7,46.2 38.4,45.1 38.3,43.9 38.1,42.8 37.7,41.8 37.7,40.7 38.6,40.0 39.6,39.5 40.5,38.8 40.7,37.7 41.0,36.6"/>
<polygon fill="#FF6E0A" points="69.8,24.2 71.1,24.1 72.3,24.2 73.6,23.7 74.8,23.9 76.1,23.9 77.0,24.7 77.6,25.8 77.9,27.1 77.9,28.4 77.4,29.6 77.6,30.9 78.6,31.3 79.3,32.1 80.5,31.5 81.7,31.2 83.0,30.9 84.6,30.7 86.2,30.6 87.7,30.1 89.3,29.9 90.8,30.0 92.2,29.8 93.7,29.8 94.9,29.4 96.1,29.1 96.2,30.3 96.3,31.5 96.6,32.7 96.6,34.2 96.4,35.6 96.6,37.1 96.7,38.2 96.9,39.4 97.0,40.5 97.2,42.2 97.1,43.5 97.2,44.8 96.9,46.0 95.4,46.3 94.0,46.6 92.5,46.7 91.3,47.2 89.9,47.1 88.7,47.6 87.4,47.7 86.2,47.9 84.9,48.0 83.6,48.2 82.4,48.4 81.4,48.8 80.3,49.1 79.3,49.4 78.2,49.6 77.1,49.8 76.1,50.2 75.0,51.0 73.7,51.6 72.5,52.3 71.1,51.0 70.6,49.7 70.0,48.4 69.4,47.1 68.6,45.9 67.8,44.7 67.1,43.4 66.8,42.0 66.9,40.5 66.7,39.0 66.3,37.9 65.6,36.9 65.2,35.8 64.8,34.6 64.5,33.5 64.0,32.4 64.0,31.3 63.5,30.2 63.1,29.0 62.6,27.8 62.3,26.5 63.5,25.2 64.7,24.9 66.0,24.6 67.3,24.5 68.6,24.6"/>
<polygon fill="#F9FF10" points="72.5,52.3 73.7,51.6 75.0,51.0 76.1,50.2 77.1,49.8 78.2,49.6 79.3,49.4 80.3,49.1 81.4,48.8 82.4,48.4 83.6,48.2 84.9,48.0 86.2,47.9 87.4,47.7 88.7,47.6 89.9,47.1 91.3,47.2 92.5,46.7 94.0,46.6 95.4,46.3 96.9,46.0 97.2,44.8 97.1,43.5 97.2,42.2 97.0,40.5 97.8,39.5 98.9,38.8 100.7,39.4 101.8,40.0 102.9,40.5 103.9,41.3 104.8,42.6 105.8,43.8 106.7,44.5 107.6,45.3 108.5,46.0 109.6,46.8 110.4,48.0 111.5,48.8 112.5,49.0 113.4,49.4 114.5,49.5 115.5,49.9 116.6,50.0 117.8,50.3 118.9,51.0 118.0,52.0 117.3,53.0 116.3,53.7 115.5,54.6 114.6,55.5 114.4,56.6 113.9,57.7 113.9,58.8 114.2,60.4 114.4,62.0 115.1,63.0 116.0,63.8 116.7,65.1 117.6,66.2 117.3,69.0 117.2,71.3 116.8,72.2 116.6,73.2 115.5,73.2 114.5,73.6 112.9,73.3 111.4,73.0 110.1,72.9 108.9,73.0 107.6,72.9 106.4,72.7 105.1,72.5 103.7,72.7 102.3,72.5 100.8,72.8 99.4,72.9 98.0,72.8 96.6,72.8 95.3,73.1 94.0,73.4 92.6,73.4 91.3,73.5 90.0,73.9 88.6,73.9 87.3,73.8 86.0,74.2 84.8,74.2 83.6,74.4 82.4,74.8 81.2,74.9 80.0,75.0 78.9,75.4 77.7,75.3 76.5,75.7 75.4,75.9 74.1,76.1 72.9,76.6 71.6,76.9 70.3,77.0 69.1,77.4 67.8,77.6 66.6,78.1 65.3,78.5 64.1,79.0 62.8,79.5 61.5,80.2 60.3,80.9 59.5,81.7 58.6,82.4 57.8,83.2 56.9,84.2 56.0,85.2 55.1,86.2 53.9,86.9 54.4,85.8 54.7,84.6 55.3,83.3 56.1,82.1 56.6,80.8 57.3,79.7 57.9,78.6 58.6,77.4 59.0,76.2 59.7,75.1 60.1,73.9 60.7,72.9 61.0,71.7 61.7,70.6 62.2,69.5 62.6,68.4 62.9,67.2 63.7,66.3 63.9,65.1 64.1,63.6 64.0,62.2 64.1,60.7 64.4,59.6 64.4,58.6 64.7,57.5 65.7,56.7 66.8,56.1 68.1,55.8 69.1,55.0 70.1,54.0 71.3,53.1"/>
<polygon fill="#FBFFBC" points="83.0,30.9 84.1,30.7 85.0,30.0 85.7,28.8 86.9,28.1 87.9,27.2 89.1,26.5 90.1,25.6 91.4,25.4 92.6,25.0 93.8,24.3 95.2,23.9 96.3,22.9 97.6,22.5 98.8,21.8 100.1,21.2 101.6,21.0 103.1,21.2 104.5,20.8 105.7,21.3 107.0,21.2 107.9,22.0 108.5,23.4 109.1,24.8 109.5,26.2 110.0,27.3 110.8,28.3 111.4,29.4 111.9,30.4 112.3,31.5 112.9,32.5 113.7,33.8 112.7,35.0 112.1,36.3 111.7,37.6 111.2,38.8 110.8,40.1 110.4,41.3 109.9,42.6 109.5,43.8 108.9,44.9 108.5,46.0 107.6,45.3 106.7,44.5 105.8,43.8 104.8,42.6 103.9,41.3 102.9,40.5 101.8,40.0 100.7,39.4 98.9,38.8 97.8,39.5 97.0,40.5 96.9,39.4 96.7,38.2 96.6,37.1 96.4,35.6 96.6,34.2 96.6,32.7 96.3,31.5 96.2,30.3 96.1,29.1 94.9,29.4 93.7,29.8 92.2,29.8 90.8,30.0 89.3,29.9 87.7,30.1 86.2,30.6 84.6,30.7"/>
<polygon fill="#FBFFBC" points="113.7,33.8 115.1,34.4 116.6,34.6 117.8,35.2 119.0,35.9 120.3,36.3 121.3,36.9 122.5,37.1 123.5,37.7 124.4,38.5 125.0,39.5 125.7,40.5 126.2,41.5 127.1,42.3 127.6,43.4 127.8,45.2 128.0,46.6 127.1,47.3 126.0,47.8 124.7,48.3 123.3,48.4 122.0,48.8 120.5,49.8 119.6,50.3 118.9,51.0 117.8,50.3 116.6,50.0 115.5,49.9 114.5,49.5 113.4,49.4 112.5,49.0 111.5,48.8 110.4,48.0 109.6,46.8 108.5,46.0 108.9,44.9 109.5,43.8 109.9,42.6 110.4,41.3 110.8,40.1 111.2,38.8 111.7,37.6 112.1,36.3 112.7,35.0"/>
<polygon fill="#F9FF10" points="107.9,22.0 108.8,21.3 110.0,21.0 111.4,20.6 112.8,20.6 114.4,20.5 115.9,20.8 117.2,20.9 118.5,21.4 119.4,21.9 120.3,22.5 120.9,23.5 121.7,24.3 122.2,25.3 123.4,26.2 124.1,27.5 125.0,28.6 126.1,29.5 127.0,30.6 127.4,31.9 127.8,33.2 128.2,34.7 129.2,35.9 129.6,37.0 130.3,38.0 131.4,38.6 130.0,40.0 128.8,42.0 127.6,43.4 127.1,42.3 126.2,41.5 125.7,40.5 125.0,39.5 124.4,38.5 123.5,37.7 122.5,37.1 121.3,36.9 120.3,36.3 119.0,35.9 117.8,35.2 116.6,34.6 115.1,34.4 113.7,33.8 112.9,32.5 112.3,31.5 111.9,30.4 111.4,29.4 110.8,28.3 110.0,27.3 109.5,26.2 109.1,24.8 108.5,23.4"/>
<polygon fill="#FBFFBC" points="128.0,46.6 129.0,46.7 130.0,46.8 131.2,46.7 132.4,46.6 134.0,47.3 134.6,48.0 134.5,49.1 134.0,50.0 133.5,51.3 133.2,52.6 133.2,53.9 132.8,55.2 133.5,56.6 134.8,57.5 133.2,58.2 131.6,59.2 130.4,60.6 129.3,61.0 128.4,61.8 126.8,62.4 125.6,63.8 124.4,64.0 123.2,64.6 122.0,64.8 120.9,65.2 119.8,65.5 118.7,65.9 117.6,66.2 116.7,65.1 116.0,63.8 115.1,63.0 114.4,62.0 114.2,60.4 113.9,58.8 113.9,57.7 114.4,56.6 114.6,55.5 115.5,54.6 116.3,53.7 117.3,53.0 118.0,52.0 118.9,51.0 119.6,50.3 120.5,49.8 122.0,48.8 123.3,48.4 124.7,48.3 126.0,47.8 127.1,47.3"/>
<polygon fill="#FBFFBC" points="117.6,66.2 118.7,65.9 119.8,65.5 120.9,65.2 122.0,64.8 123.2,64.6 124.4,64.0 125.6,63.8 126.8,62.4 128.4,61.8 129.3,61.0 130.4,60.6 131.6,59.2 133.2,58.2 134.8,57.5 135.7,56.3 136.8,55.2 137.6,54.0 138.8,53.2 139.9,52.3 140.8,51.2 141.8,50.5 142.8,49.8 143.8,49.2 143.9,50.4 143.8,51.6 143.7,52.8 143.4,54.0 143.2,55.0 142.4,55.8 143.8,56.6 145.0,56.0 146.0,55.2 146.7,54.4 147.8,54.2 147.7,55.2 147.0,56.0 146.5,56.9 145.6,57.6 146.2,59.0 144.8,59.8 143.9,60.7 142.8,61.2 142.1,62.0 141.2,62.6 140.5,63.7 139.4,64.4 138.2,65.3 136.8,65.8 135.3,66.2 134.3,66.8 133.1,66.9 132.1,67.5 130.9,67.5 129.6,67.5 128.3,68.0 127.1,68.6 125.8,68.6 124.7,69.1 123.6,69.3 122.5,69.6 121.4,69.8 120.1,70.6 118.5,70.9 117.2,71.3 117.3,69.0"/>
<polygon fill="#FBFFBC" points="127.6,43.4 128.8,42.0 130.0,40.0 131.4,38.6 132.7,38.9 134.0,39.2 134.5,40.2 135.2,41.2 134.9,42.2 134.8,43.2 136.0,44.4 136.9,43.9 138.0,44.0 139.6,44.3 141.2,44.0 142.5,44.5 143.8,44.6 144.6,45.5 145.8,46.0 145.6,47.6 144.5,48.2 143.8,49.2 142.8,49.8 141.8,50.5 140.8,51.2 139.9,52.3 138.8,53.2 137.6,54.0 136.8,55.2 135.7,56.3 134.8,57.5 133.5,56.6 132.8,55.2 133.2,53.9 133.2,52.6 133.5,51.3 134.0,50.0 134.5,49.1 134.6,48.0 134.0,47.3 132.4,46.6 131.2,46.7 130.0,46.8 129.0,46.7 128.0,46.6 127.8,45.2"/>
<polygon fill="#F9FF10" points="122.6,22.3 123.6,21.4 123.9,20.1 124.7,19.3 125.8,18.8 126.9,18.4 127.9,17.5 129.3,17.5 130.3,16.7 131.4,17.0 132.4,17.6 134.0,17.9 135.4,18.7 136.8,18.8 138.2,19.1 139.4,18.3 140.1,17.1 141.5,16.9 142.7,16.3 143.9,15.5 145.3,15.0 146.2,14.2 147.4,13.9 148.7,15.2 147.8,16.0 147.5,17.0 147.0,18.0 146.0,19.2 145.3,20.6 145.4,21.9 144.9,23.1 145.0,24.6 144.4,25.9 143.6,27.0 143.1,28.3 141.4,27.9 140.9,26.9 140.6,25.8 139.3,24.8 138.0,25.2 136.7,24.7 135.4,25.1 134.1,25.2 132.9,25.6 131.5,26.0 130.3,26.8 129.7,27.8 128.6,28.4 126.9,29.2 126.0,27.9 124.7,27.0 123.6,25.8 123.0,24.3 123.1,23.2"/>
<polygon fill="#FBFFBC" points="29.4,80.4 30.7,78.6 35.4,77.6 40.4,76.7 44.2,75.7 47.9,78.4 51.7,81.5 53.6,84.0 53.9,86.9 53.0,86.1 49.8,83.9 45.4,82.2 41.0,81.7 36.0,82.6 31.0,82.3"/>
<path fill="none" stroke-width="0.75" d="M44.3,76.2 L46.8,78.9 L49.2,80.6 L51.6,83 L53.3,85.2 M45.6,76.4 L48.2,78.2 L50.4,80.6 L52.8,82.6 M53.9,85.6 L53.9,88.1 M52.6,86.6 L55,86.4"/>
<polyline fill="none" points="116.8,21.2 117.5,22.2 118.3,23.2 118.9,24.4 119.7,25.4 120.2,26.6 121.3,27.4 122.1,28.4 122.7,29.6 123.3,30.6 124.1,31.5 124.8,32.5 125.2,33.6 125.9,34.8 126.4,36.0 126.6,37.3 127.1,38.6 127.3,39.9 127.5,41.2"/>
<path fill="#F9FF10" d="M127.3,29.8 L129.7,30.3 L131.7,33.7 L134.3,37 L132,37.8 L129.4,35.8 L127.8,33.2 Z"/>
<path fill="none" stroke-width="0.8" d="M127.2,29.2 L128.3,31.5 L129.2,33.8 M130.6,29.5 L132.8,32.0 M131.9,34.8 L135,36.1 M134.6,38.2 L135.8,39.2 M134.2,40.8 L135,41.6"/>
<path fill="#222" stroke-width="0.3" d="M127.6,63.4 L128.8,62.4 L130.2,62.4 L129.6,63.4 L128.2,64 Z M142.2,43.5 l1.6,0 l0.4,0.8 l-1.8,0.3z M138,66.6 l0.8,0.3 l-0.6,0.5z M142.1,40.8 l0.7,0.3 l-0.5,0.5z"/>
<path fill="none" d="M147.4,54.3 L148.4,57.5 L148.9,60.3 M148,60.6 L148.6,61.2"/>
<path fill="#8a8420" stroke="#444" stroke-width="0.7" d="M155.6,8.4 L157.4,7.9 L159.5,8.4 L158.4,10.0 L159.8,11.4 L159.2,13.2 L157.4,13.8 L156.2,12.8 L157.4,11.6 L156.6,10.4 L155.4,9.8 Z"/>
<path fill="none" d="M154.4,21.6 L155.6,20.4 L156.6,21.5 L157.8,20.2 M151,15.2 L151.4,16.2 M153.5,7.8 L154.6,8.2 M158.5,18.4 L159.6,18.4 M146,20 L146.3,21 M143.6,29.6 L143.9,30.4"/>
<path fill="#000" stroke-width="0.3" d="M112.5,76.9 l1,0.6 l-1,0.6z M111.3,79.6 l0.8,0.6 l-0.9,0.4z M118.6,76.2 l0.8,0.5 l-0.8,0.5z M135.3,76.5 l1,-1 l0.8,0.6 l-0.6,1.2z M138.2,75.2 l1,0.2 l0.4,1 l-1,0.6z M137,86 l0.9,0.4 l-0.7,0.6z M148.6,84 l0.8,0.6 l-0.5,0.5z M64.9,84 l1,0.5 l-0.9,0.6z M74.4,77.2 l1,0.5 l-1,0.5z"/>
</g>
</g>
<rect x="0.50" y="1.60" width="160.00" height="5.90" fill="#f9f9f9" stroke="#8a8a8a" stroke-width="0.8"/>
<rect x="0.50" y="1.60" width="160.00" height="88.00" fill="none" stroke="#8a8a8a" stroke-width="0.8"/>
<text x="80.5" y="6.6" font-size="5.05" text-anchor="middle" fill="#000">Adolescents</text>
</g>
<g transform="translate(0.00,176.00)">
<g transform="translate(0.00,0.00)">
<g stroke="#000" stroke-width="0.50" stroke-linejoin="round">
<polygon fill="#FBFFBC" points="1.5,44.8 3.0,43.6 3.9,43.0 5.0,42.6 6.0,41.9 7.2,41.8 8.2,40.9 9.4,40.7 10.4,39.7 11.3,38.6 12.5,38.1 13.7,37.4 15.1,37.3 16.3,36.9 17.5,36.3 18.8,36.4 20.0,35.9 21.3,35.6 22.6,35.7 23.9,35.5 25.1,35.7 26.4,35.1 27.6,35.0 28.9,35.1 30.2,34.8 31.5,34.6 32.7,34.0 33.9,33.5 35.2,33.3 36.5,33.2 37.2,34.0 38.3,34.1 39.8,34.4 40.9,35.4 41.0,36.6 40.7,37.7 40.5,38.8 39.6,39.5 38.6,40.0 37.7,40.7 37.7,41.8 38.1,42.8 38.3,43.9 38.4,45.1 38.7,46.2 39.1,47.3 39.6,48.3 40.1,49.5 40.6,50.7 40.9,52.0 41.7,53.0 42.2,54.2 41.3,55.2 40.2,56.2 39.1,57.0 38.0,57.3 36.9,57.5 35.8,57.8 34.7,58.3 33.8,59.3 32.9,60.2 31.6,60.7 30.3,61.3 29.1,62.0 28.1,63.3 27.2,64.0 26.8,65.1 25.9,65.8 24.1,66.2 22.7,65.6 21.5,64.5 20.3,63.7 19.3,62.5 18.4,61.4 17.7,60.4 16.6,59.8 16.0,58.7 15.1,57.9 14.2,57.1 13.1,56.6 12.3,55.8 11.3,55.2 10.1,54.7 9.2,53.9 8.3,53.0 7.5,52.0 6.3,51.1 5.0,50.5 3.8,49.7 2.6,49.1 1.6,48.2 1.6,47.1 1.5,45.9"/>
<polygon fill="#FF6E0A" points="40.9,35.4 42.1,34.8 43.5,34.4 44.8,34.2 46.1,33.7 47.3,33.1 47.4,31.8 48.0,30.6 48.3,29.4 48.6,28.1 49.8,27.7 50.9,27.0 51.8,26.1 53.0,25.6 54.4,25.3 55.3,24.1 56.7,23.7 57.7,23.1 58.9,22.8 59.9,22.1 60.3,20.9 61.1,19.9 62.6,20.1 64.1,19.9 65.5,20.4 66.6,20.5 67.8,20.5 68.9,20.3 69.9,21.6 70.4,23.3 69.8,24.2 68.6,24.6 67.3,24.5 66.0,24.6 64.7,24.9 63.5,25.2 62.3,26.5 62.6,27.8 63.1,29.0 63.5,30.2 64.0,31.3 64.0,32.4 64.5,33.5 64.8,34.6 65.2,35.8 65.6,36.9 66.3,37.9 66.7,39.0 66.9,40.5 66.8,42.0 67.1,43.4 67.8,44.7 68.6,45.9 69.4,47.1 70.0,48.4 70.6,49.7 71.1,51.0 72.5,52.3 71.3,53.1 70.1,54.0 69.1,55.0 68.1,55.8 66.8,56.1 65.7,56.7 64.7,57.5 64.4,58.6 64.4,59.6 64.1,60.7 64.0,62.2 64.1,63.6 63.9,65.1 63.7,66.3 62.9,67.2 62.6,68.4 62.2,69.5 61.7,70.6 61.0,71.7 60.7,72.9 60.1,73.9 59.7,75.1 59.0,76.2 58.6,77.4 57.9,78.6 57.3,79.7 56.6,80.8 56.1,82.1 55.3,83.3 54.7,84.6 54.4,85.8 53.9,86.9 53.8,85.4 53.6,84.0 52.9,82.6 51.7,81.5 50.7,80.8 49.9,79.8 48.9,79.1 47.9,78.4 46.8,77.6 45.7,76.8 44.8,75.8 43.5,75.2 42.5,74.1 41.0,73.5 39.8,72.7 38.6,71.8 37.1,71.3 36.0,70.2 34.8,69.7 33.5,69.3 32.2,69.0 31.6,67.5 30.3,66.4 29.8,65.2 28.7,64.4 28.1,63.3 29.1,62.0 30.3,61.3 31.6,60.7 32.9,60.2 33.8,59.3 34.7,58.3 35.8,57.8 36.9,57.5 38.0,57.3 39.1,57.0 40.2,56.2 41.3,55.2 42.2,54.2 41.7,53.0 40.9,52.0 40.6,50.7 40.1,49.5 39.6,48.3 39.1,47.3 38.7,46.2 38.4,45.1 38.3,43.9 38.1,42.8 37.7,41.8 37.7,40.7 38.6,40.0 39.6,39.5 40.5,38.8 40.7,37.7 41.0,36.6"/>
<polygon fill="#FE0404" points="69.8,24.2 71.1,24.1 72.3,24.2 73.6,23.7 74.8,23.9 76.1,23.9 77.0,24.7 77.6,25.8 77.9,27.1 77.9,28.4 77.4,29.6 77.6,30.9 78.6,31.3 79.3,32.1 80.5,31.5 81.7,31.2 83.0,30.9 84.6,30.7 86.2,30.6 87.7,30.1 89.3,29.9 90.8,30.0 92.2,29.8 93.7,29.8 94.9,29.4 96.1,29.1 96.2,30.3 96.3,31.5 96.6,32.7 96.6,34.2 96.4,35.6 96.6,37.1 96.7,38.2 96.9,39.4 97.0,40.5 97.2,42.2 97.1,43.5 97.2,44.8 96.9,46.0 95.4,46.3 94.0,46.6 92.5,46.7 91.3,47.2 89.9,47.1 88.7,47.6 87.4,47.7 86.2,47.9 84.9,48.0 83.6,48.2 82.4,48.4 81.4,48.8 80.3,49.1 79.3,49.4 78.2,49.6 77.1,49.8 76.1,50.2 75.0,51.0 73.7,51.6 72.5,52.3 71.1,51.0 70.6,49.7 70.0,48.4 69.4,47.1 68.6,45.9 67.8,44.7 67.1,43.4 66.8,42.0 66.9,40.5 66.7,39.0 66.3,37.9 65.6,36.9 65.2,35.8 64.8,34.6 64.5,33.5 64.0,32.4 64.0,31.3 63.5,30.2 63.1,29.0 62.6,27.8 62.3,26.5 63.5,25.2 64.7,24.9 66.0,24.6 67.3,24.5 68.6,24.6"/>
<polygon fill="#F9FF10" points="72.5,52.3 73.7,51.6 75.0,51.0 76.1,50.2 77.1,49.8 78.2,49.6 79.3,49.4 80.3,49.1 81.4,48.8 82.4,48.4 83.6,48.2 84.9,48.0 86.2,47.9 87.4,47.7 88.7,47.6 89.9,47.1 91.3,47.2 92.5,46.7 94.0,46.6 95.4,46.3 96.9,46.0 97.2,44.8 97.1,43.5 97.2,42.2 97.0,40.5 97.8,39.5 98.9,38.8 100.7,39.4 101.8,40.0 102.9,40.5 103.9,41.3 104.8,42.6 105.8,43.8 106.7,44.5 107.6,45.3 108.5,46.0 109.6,46.8 110.4,48.0 111.5,48.8 112.5,49.0 113.4,49.4 114.5,49.5 115.5,49.9 116.6,50.0 117.8,50.3 118.9,51.0 118.0,52.0 117.3,53.0 116.3,53.7 115.5,54.6 114.6,55.5 114.4,56.6 113.9,57.7 113.9,58.8 114.2,60.4 114.4,62.0 115.1,63.0 116.0,63.8 116.7,65.1 117.6,66.2 117.3,69.0 117.2,71.3 116.8,72.2 116.6,73.2 115.5,73.2 114.5,73.6 112.9,73.3 111.4,73.0 110.1,72.9 108.9,73.0 107.6,72.9 106.4,72.7 105.1,72.5 103.7,72.7 102.3,72.5 100.8,72.8 99.4,72.9 98.0,72.8 96.6,72.8 95.3,73.1 94.0,73.4 92.6,73.4 91.3,73.5 90.0,73.9 88.6,73.9 87.3,73.8 86.0,74.2 84.8,74.2 83.6,74.4 82.4,74.8 81.2,74.9 80.0,75.0 78.9,75.4 77.7,75.3 76.5,75.7 75.4,75.9 74.1,76.1 72.9,76.6 71.6,76.9 70.3,77.0 69.1,77.4 67.8,77.6 66.6,78.1 65.3,78.5 64.1,79.0 62.8,79.5 61.5,80.2 60.3,80.9 59.5,81.7 58.6,82.4 57.8,83.2 56.9,84.2 56.0,85.2 55.1,86.2 53.9,86.9 54.4,85.8 54.7,84.6 55.3,83.3 56.1,82.1 56.6,80.8 57.3,79.7 57.9,78.6 58.6,77.4 59.0,76.2 59.7,75.1 60.1,73.9 60.7,72.9 61.0,71.7 61.7,70.6 62.2,69.5 62.6,68.4 62.9,67.2 63.7,66.3 63.9,65.1 64.1,63.6 64.0,62.2 64.1,60.7 64.4,59.6 64.4,58.6 64.7,57.5 65.7,56.7 66.8,56.1 68.1,55.8 69.1,55.0 70.1,54.0 71.3,53.1"/>
<polygon fill="#FF6E0A" points="83.0,30.9 84.1,30.7 85.0,30.0 85.7,28.8 86.9,28.1 87.9,27.2 89.1,26.5 90.1,25.6 91.4,25.4 92.6,25.0 93.8,24.3 95.2,23.9 96.3,22.9 97.6,22.5 98.8,21.8 100.1,21.2 101.6,21.0 103.1,21.2 104.5,20.8 105.7,21.3 107.0,21.2 107.9,22.0 108.5,23.4 109.1,24.8 109.5,26.2 110.0,27.3 110.8,28.3 111.4,29.4 111.9,30.4 112.3,31.5 112.9,32.5 113.7,33.8 112.7,35.0 112.1,36.3 111.7,37.6 111.2,38.8 110.8,40.1 110.4,41.3 109.9,42.6 109.5,43.8 108.9,44.9 108.5,46.0 107.6,45.3 106.7,44.5 105.8,43.8 104.8,42.6 103.9,41.3 102.9,40.5 101.8,40.0 100.7,39.4 98.9,38.8 97.8,39.5 97.0,40.5 96.9,39.4 96.7,38.2 96.6,37.1 96.4,35.6 96.6,34.2 96.6,32.7 96.3,31.5 96.2,30.3 96.1,29.1 94.9,29.4 93.7,29.8 92.2,29.8 90.8,30.0 89.3,29.9 87.7,30.1 86.2,30.6 84.6,30.7"/>
<polygon fill="#FF6E0A" points="113.7,33.8 115.1,34.4 116.6,34.6 117.8,35.2 119.0,35.9 120.3,36.3 121.3,36.9 122.5,37.1 123.5,37.7 124.4,38.5 125.0,39.5 125.7,40.5 126.2,41.5 127.1,42.3 127.6,43.4 127.8,45.2 128.0,46.6 127.1,47.3 126.0,47.8 124.7,48.3 123.3,48.4 122.0,48.8 120.5,49.8 119.6,50.3 118.9,51.0 117.8,50.3 116.6,50.0 115.5,49.9 114.5,49.5 113.4,49.4 112.5,49.0 111.5,48.8 110.4,48.0 109.6,46.8 108.5,46.0 108.9,44.9 109.5,43.8 109.9,42.6 110.4,41.3 110.8,40.1 111.2,38.8 111.7,37.6 112.1,36.3 112.7,35.0"/>
<polygon fill="#FFB010" points="107.9,22.0 108.8,21.3 110.0,21.0 111.4,20.6 112.8,20.6 114.4,20.5 115.9,20.8 117.2,20.9 118.5,21.4 119.4,21.9 120.3,22.5 120.9,23.5 121.7,24.3 122.2,25.3 123.4,26.2 124.1,27.5 125.0,28.6 126.1,29.5 127.0,30.6 127.4,31.9 127.8,33.2 128.2,34.7 129.2,35.9 129.6,37.0 130.3,38.0 131.4,38.6 130.0,40.0 128.8,42.0 127.6,43.4 127.1,42.3 126.2,41.5 125.7,40.5 125.0,39.5 124.4,38.5 123.5,37.7 122.5,37.1 121.3,36.9 120.3,36.3 119.0,35.9 117.8,35.2 116.6,34.6 115.1,34.4 113.7,33.8 112.9,32.5 112.3,31.5 111.9,30.4 111.4,29.4 110.8,28.3 110.0,27.3 109.5,26.2 109.1,24.8 108.5,23.4"/>
<polygon fill="#F9FF10" points="128.0,46.6 129.0,46.7 130.0,46.8 131.2,46.7 132.4,46.6 134.0,47.3 134.6,48.0 134.5,49.1 134.0,50.0 133.5,51.3 133.2,52.6 133.2,53.9 132.8,55.2 133.5,56.6 134.8,57.5 133.2,58.2 131.6,59.2 130.4,60.6 129.3,61.0 128.4,61.8 126.8,62.4 125.6,63.8 124.4,64.0 123.2,64.6 122.0,64.8 120.9,65.2 119.8,65.5 118.7,65.9 117.6,66.2 116.7,65.1 116.0,63.8 115.1,63.0 114.4,62.0 114.2,60.4 113.9,58.8 113.9,57.7 114.4,56.6 114.6,55.5 115.5,54.6 116.3,53.7 117.3,53.0 118.0,52.0 118.9,51.0 119.6,50.3 120.5,49.8 122.0,48.8 123.3,48.4 124.7,48.3 126.0,47.8 127.1,47.3"/>
<polygon fill="#FBFFBC" points="117.6,66.2 118.7,65.9 119.8,65.5 120.9,65.2 122.0,64.8 123.2,64.6 124.4,64.0 125.6,63.8 126.8,62.4 128.4,61.8 129.3,61.0 130.4,60.6 131.6,59.2 133.2,58.2 134.8,57.5 135.7,56.3 136.8,55.2 137.6,54.0 138.8,53.2 139.9,52.3 140.8,51.2 141.8,50.5 142.8,49.8 143.8,49.2 143.9,50.4 143.8,51.6 143.7,52.8 143.4,54.0 143.2,55.0 142.4,55.8 143.8,56.6 145.0,56.0 146.0,55.2 146.7,54.4 147.8,54.2 147.7,55.2 147.0,56.0 146.5,56.9 145.6,57.6 146.2,59.0 144.8,59.8 143.9,60.7 142.8,61.2 142.1,62.0 141.2,62.6 140.5,63.7 139.4,64.4 138.2,65.3 136.8,65.8 135.3,66.2 134.3,66.8 133.1,66.9 132.1,67.5 130.9,67.5 129.6,67.5 128.3,68.0 127.1,68.6 125.8,68.6 124.7,69.1 123.6,69.3 122.5,69.6 121.4,69.8 120.1,70.6 118.5,70.9 117.2,71.3 117.3,69.0"/>
<polygon fill="#F9FF10" points="127.6,43.4 128.8,42.0 130.0,40.0 131.4,38.6 132.7,38.9 134.0,39.2 134.5,40.2 135.2,41.2 134.9,42.2 134.8,43.2 136.0,44.4 136.9,43.9 138.0,44.0 139.6,44.3 141.2,44.0 142.5,44.5 143.8,44.6 144.6,45.5 145.8,46.0 145.6,47.6 144.5,48.2 143.8,49.2 142.8,49.8 141.8,50.5 140.8,51.2 139.9,52.3 138.8,53.2 137.6,54.0 136.8,55.2 135.7,56.3 134.8,57.5 133.5,56.6 132.8,55.2 133.2,53.9 133.2,52.6 133.5,51.3 134.0,50.0 134.5,49.1 134.6,48.0 134.0,47.3 132.4,46.6 131.2,46.7 130.0,46.8 129.0,46.7 128.0,46.6 127.8,45.2"/>
<polygon fill="#FFB010" points="122.6,22.3 123.6,21.4 123.9,20.1 124.7,19.3 125.8,18.8 126.9,18.4 127.9,17.5 129.3,17.5 130.3,16.7 131.4,17.0 132.4,17.6 134.0,17.9 135.4,18.7 136.8,18.8 138.2,19.1 139.4,18.3 140.1,17.1 141.5,16.9 142.7,16.3 143.9,15.5 145.3,15.0 146.2,14.2 147.4,13.9 148.7,15.2 147.8,16.0 147.5,17.0 147.0,18.0 146.0,19.2 145.3,20.6 145.4,21.9 144.9,23.1 145.0,24.6 144.4,25.9 143.6,27.0 143.1,28.3 141.4,27.9 140.9,26.9 140.6,25.8 139.3,24.8 138.0,25.2 136.7,24.7 135.4,25.1 134.1,25.2 132.9,25.6 131.5,26.0 130.3,26.8 129.7,27.8 128.6,28.4 126.9,29.2 126.0,27.9 124.7,27.0 123.6,25.8 123.0,24.3 123.1,23.2"/>
<polygon fill="#FF6E0A" points="29.4,80.4 30.7,78.6 35.4,77.6 40.4,76.7 44.2,75.7 47.9,78.4 51.7,81.5 53.6,84.0 53.9,86.9 53.0,86.1 49.8,83.9 45.4,82.2 41.0,81.7 36.0,82.6 31.0,82.3"/>
<path fill="none" stroke-width="0.75" d="M44.3,76.2 L46.8,78.9 L49.2,80.6 L51.6,83 L53.3,85.2 M45.6,76.4 L48.2,78.2 L50.4,80.6 L52.8,82.6 M53.9,85.6 L53.9,88.1 M52.6,86.6 L55,86.4"/>
<polyline fill="none" points="116.8,21.2 117.5,22.2 118.3,23.2 118.9,24.4 119.7,25.4 120.2,26.6 121.3,27.4 122.1,28.4 122.7,29.6 123.3,30.6 124.1,31.5 124.8,32.5 125.2,33.6 125.9,34.8 126.4,36.0 126.6,37.3 127.1,38.6 127.3,39.9 127.5,41.2"/>
<path fill="#FFB010" d="M127.3,29.8 L129.7,30.3 L131.7,33.7 L134.3,37 L132,37.8 L129.4,35.8 L127.8,33.2 Z"/>
<path fill="none" stroke-width="0.8" d="M127.2,29.2 L128.3,31.5 L129.2,33.8 M130.6,29.5 L132.8,32.0 M131.9,34.8 L135,36.1 M134.6,38.2 L135.8,39.2 M134.2,40.8 L135,41.6"/>
<path fill="#222" stroke-width="0.3" d="M127.6,63.4 L128.8,62.4 L130.2,62.4 L129.6,63.4 L128.2,64 Z M142.2,43.5 l1.6,0 l0.4,0.8 l-1.8,0.3z M138,66.6 l0.8,0.3 l-0.6,0.5z M142.1,40.8 l0.7,0.3 l-0.5,0.5z"/>
<path fill="none" d="M147.4,54.3 L148.4,57.5 L148.9,60.3 M148,60.6 L148.6,61.2"/>
<path fill="#8a8420" stroke="#444" stroke-width="0.7" d="M155.6,8.4 L157.4,7.9 L159.5,8.4 L158.4,10.0 L159.8,11.4 L159.2,13.2 L157.4,13.8 L156.2,12.8 L157.4,11.6 L156.6,10.4 L155.4,9.8 Z"/>
<path fill="none" d="M154.4,21.6 L155.6,20.4 L156.6,21.5 L157.8,20.2 M151,15.2 L151.4,16.2 M153.5,7.8 L154.6,8.2 M158.5,18.4 L159.6,18.4 M146,20 L146.3,21 M143.6,29.6 L143.9,30.4"/>
<path fill="#000" stroke-width="0.3" d="M112.5,76.9 l1,0.6 l-1,0.6z M111.3,79.6 l0.8,0.6 l-0.9,0.4z M118.6,76.2 l0.8,0.5 l-0.8,0.5z M135.3,76.5 l1,-1 l0.8,0.6 l-0.6,1.2z M138.2,75.2 l1,0.2 l0.4,1 l-1,0.6z M137,86 l0.9,0.4 l-0.7,0.6z M148.6,84 l0.8,0.6 l-0.5,0.5z M64.9,84 l1,0.5 l-0.9,0.6z M74.4,77.2 l1,0.5 l-1,0.5z"/>
</g>
</g>
<rect x="0.50" y="1.60" width="160.00" height="5.90" fill="#f9f9f9" stroke="#8a8a8a" stroke-width="0.8"/>
<rect x="0.50" y="1.60" width="160.00" height="88.00" fill="none" stroke="#8a8a8a" stroke-width="0.8"/>
<text x="80.5" y="6.6" font-size="5.05" text-anchor="middle" fill="#000">Adults</text>
</g>
<g transform="translate(160.00,176.00)">
<g transform="translate(0.60,1.30)">
<g stroke="#000" stroke-width="0.60" stroke-linejoin="round">
<polygon fill="#FFFFFF" points="1.5,44.8 3.0,43.6 3.9,43.0 5.0,42.6 6.0,41.9 7.2,41.8 8.2,40.9 9.4,40.7 10.4,39.7 11.3,38.6 12.5,38.1 13.7,37.4 15.1,37.3 16.3,36.9 17.5,36.3 18.8,36.4 20.0,35.9 21.3,35.6 22.6,35.7 23.9,35.5 25.1,35.7 26.4,35.1 27.6,35.0 28.9,35.1 30.2,34.8 31.5,34.6 32.7,34.0 33.9,33.5 35.2,33.3 36.5,33.2 37.2,34.0 38.3,34.1 39.8,34.4 40.9,35.4 41.0,36.6 40.7,37.7 40.5,38.8 39.6,39.5 38.6,40.0 37.7,40.7 37.7,41.8 38.1,42.8 38.3,43.9 38.4,45.1 38.7,46.2 39.1,47.3 39.6,48.3 40.1,49.5 40.6,50.7 40.9,52.0 41.7,53.0 42.2,54.2 41.3,55.2 40.2,56.2 39.1,57.0 38.0,57.3 36.9,57.5 35.8,57.8 34.7,58.3 33.8,59.3 32.9,60.2 31.6,60.7 30.3,61.3 29.1,62.0 28.1,63.3 27.2,64.0 26.8,65.1 25.9,65.8 24.1,66.2 22.7,65.6 21.5,64.5 20.3,63.7 19.3,62.5 18.4,61.4 17.7,60.4 16.6,59.8 16.0,58.7 15.1,57.9 14.2,57.1 13.1,56.6 12.3,55.8 11.3,55.2 10.1,54.7 9.2,53.9 8.3,53.0 7.5,52.0 6.3,51.1 5.0,50.5 3.8,49.7 2.6,49.1 1.6,48.2 1.6,47.1 1.5,45.9"/>
<polygon fill="#FFFFFF" points="40.9,35.4 42.1,34.8 43.5,34.4 44.8,34.2 46.1,33.7 47.3,33.1 47.4,31.8 48.0,30.6 48.3,29.4 48.6,28.1 49.8,27.7 50.9,27.0 51.8,26.1 53.0,25.6 54.4,25.3 55.3,24.1 56.7,23.7 57.7,23.1 58.9,22.8 59.9,22.1 60.3,20.9 61.1,19.9 62.6,20.1 64.1,19.9 65.5,20.4 66.6,20.5 67.8,20.5 68.9,20.3 69.9,21.6 70.4,23.3 69.8,24.2 68.6,24.6 67.3,24.5 66.0,24.6 64.7,24.9 63.5,25.2 62.3,26.5 62.6,27.8 63.1,29.0 63.5,30.2 64.0,31.3 64.0,32.4 64.5,33.5 64.8,34.6 65.2,35.8 65.6,36.9 66.3,37.9 66.7,39.0 66.9,40.5 66.8,42.0 67.1,43.4 67.8,44.7 68.6,45.9 69.4,47.1 70.0,48.4 70.6,49.7 71.1,51.0 72.5,52.3 71.3,53.1 70.1,54.0 69.1,55.0 68.1,55.8 66.8,56.1 65.7,56.7 64.7,57.5 64.4,58.6 64.4,59.6 64.1,60.7 64.0,62.2 64.1,63.6 63.9,65.1 63.7,66.3 62.9,67.2 62.6,68.4 62.2,69.5 61.7,70.6 61.0,71.7 60.7,72.9 60.1,73.9 59.7,75.1 59.0,76.2 58.6,77.4 57.9,78.6 57.3,79.7 56.6,80.8 56.1,82.1 55.3,83.3 54.7,84.6 54.4,85.8 53.9,86.9 53.8,85.4 53.6,84.0 52.9,82.6 51.7,81.5 50.7,80.8 49.9,79.8 48.9,79.1 47.9,78.4 46.8,77.6 45.7,76.8 44.8,75.8 43.5,75.2 42.5,74.1 41.0,73.5 39.8,72.7 38.6,71.8 37.1,71.3 36.0,70.2 34.8,69.7 33.5,69.3 32.2,69.0 31.6,67.5 30.3,66.4 29.8,65.2 28.7,64.4 28.1,63.3 29.1,62.0 30.3,61.3 31.6,60.7 32.9,60.2 33.8,59.3 34.7,58.3 35.8,57.8 36.9,57.5 38.0,57.3 39.1,57.0 40.2,56.2 41.3,55.2 42.2,54.2 41.7,53.0 40.9,52.0 40.6,50.7 40.1,49.5 39.6,48.3 39.1,47.3 38.7,46.2 38.4,45.1 38.3,43.9 38.1,42.8 37.7,41.8 37.7,40.7 38.6,40.0 39.6,39.5 40.5,38.8 40.7,37.7 41.0,36.6"/>
<polygon fill="#FFFFFF" points="69.8,24.2 71.1,24.1 72.3,24.2 73.6,23.7 74.8,23.9 76.1,23.9 77.0,24.7 77.6,25.8 77.9,27.1 77.9,28.4 77.4,29.6 77.6,30.9 78.6,31.3 79.3,32.1 80.5,31.5 81.7,31.2 83.0,30.9 84.6,30.7 86.2,30.6 87.7,30.1 89.3,29.9 90.8,30.0 92.2,29.8 93.7,29.8 94.9,29.4 96.1,29.1 96.2,30.3 96.3,31.5 96.6,32.7 96.6,34.2 96.4,35.6 96.6,37.1 96.7,38.2 96.9,39.4 97.0,40.5 97.2,42.2 97.1,43.5 97.2,44.8 96.9,46.0 95.4,46.3 94.0,46.6 92.5,46.7 91.3,47.2 89.9,47.1 88.7,47.6 87.4,47.7 86.2,47.9 84.9,48.0 83.6,48.2 82.4,48.4 81.4,48.8 80.3,49.1 79.3,49.4 78.2,49.6 77.1,49.8 76.1,50.2 75.0,51.0 73.7,51.6 72.5,52.3 71.1,51.0 70.6,49.7 70.0,48.4 69.4,47.1 68.6,45.9 67.8,44.7 67.1,43.4 66.8,42.0 66.9,40.5 66.7,39.0 66.3,37.9 65.6,36.9 65.2,35.8 64.8,34.6 64.5,33.5 64.0,32.4 64.0,31.3 63.5,30.2 63.1,29.0 62.6,27.8 62.3,26.5 63.5,25.2 64.7,24.9 66.0,24.6 67.3,24.5 68.6,24.6"/>
<polygon fill="#FFFFFF" points="72.5,52.3 73.7,51.6 75.0,51.0 76.1,50.2 77.1,49.8 78.2,49.6 79.3,49.4 80.3,49.1 81.4,48.8 82.4,48.4 83.6,48.2 84.9,48.0 86.2,47.9 87.4,47.7 88.7,47.6 89.9,47.1 91.3,47.2 92.5,46.7 94.0,46.6 95.4,46.3 96.9,46.0 97.2,44.8 97.1,43.5 97.2,42.2 97.0,40.5 97.8,39.5 98.9,38.8 100.7,39.4 101.8,40.0 102.9,40.5 103.9,41.3 104.8,42.6 105.8,43.8 106.7,44.5 107.6,45.3 108.5,46.0 109.6,46.8 110.4,48.0 111.5,48.8 112.5,49.0 113.4,49.4 114.5,49.5 115.5,49.9 116.6,50.0 117.8,50.3 118.9,51.0 118.0,52.0 117.3,53.0 116.3,53.7 115.5,54.6 114.6,55.5 114.4,56.6 113.9,57.7 113.9,58.8 114.2,60.4 114.4,62.0 115.1,63.0 116.0,63.8 116.7,65.1 117.6,66.2 117.3,69.0 117.2,71.3 116.8,72.2 116.6,73.2 115.5,73.2 114.5,73.6 112.9,73.3 111.4,73.0 110.1,72.9 108.9,73.0 107.6,72.9 106.4,72.7 105.1,72.5 103.7,72.7 102.3,72.5 100.8,72.8 99.4,72.9 98.0,72.8 96.6,72.8 95.3,73.1 94.0,73.4 92.6,73.4 91.3,73.5 90.0,73.9 88.6,73.9 87.3,73.8 86.0,74.2 84.8,74.2 83.6,74.4 82.4,74.8 81.2,74.9 80.0,75.0 78.9,75.4 77.7,75.3 76.5,75.7 75.4,75.9 74.1,76.1 72.9,76.6 71.6,76.9 70.3,77.0 69.1,77.4 67.8,77.6 66.6,78.1 65.3,78.5 64.1,79.0 62.8,79.5 61.5,80.2 60.3,80.9 59.5,81.7 58.6,82.4 57.8,83.2 56.9,84.2 56.0,85.2 55.1,86.2 53.9,86.9 54.4,85.8 54.7,84.6 55.3,83.3 56.1,82.1 56.6,80.8 57.3,79.7 57.9,78.6 58.6,77.4 59.0,76.2 59.7,75.1 60.1,73.9 60.7,72.9 61.0,71.7 61.7,70.6 62.2,69.5 62.6,68.4 62.9,67.2 63.7,66.3 63.9,65.1 64.1,63.6 64.0,62.2 64.1,60.7 64.4,59.6 64.4,58.6 64.7,57.5 65.7,56.7 66.8,56.1 68.1,55.8 69.1,55.0 70.1,54.0 71.3,53.1"/>
<polygon fill="#FFFFFF" points="83.0,30.9 84.1,30.7 85.0,30.0 85.7,28.8 86.9,28.1 87.9,27.2 89.1,26.5 90.1,25.6 91.4,25.4 92.6,25.0 93.8,24.3 95.2,23.9 96.3,22.9 97.6,22.5 98.8,21.8 100.1,21.2 101.6,21.0 103.1,21.2 104.5,20.8 105.7,21.3 107.0,21.2 107.9,22.0 108.5,23.4 109.1,24.8 109.5,26.2 110.0,27.3 110.8,28.3 111.4,29.4 111.9,30.4 112.3,31.5 112.9,32.5 113.7,33.8 112.7,35.0 112.1,36.3 111.7,37.6 111.2,38.8 110.8,40.1 110.4,41.3 109.9,42.6 109.5,43.8 108.9,44.9 108.5,46.0 107.6,45.3 106.7,44.5 105.8,43.8 104.8,42.6 103.9,41.3 102.9,40.5 101.8,40.0 100.7,39.4 98.9,38.8 97.8,39.5 97.0,40.5 96.9,39.4 96.7,38.2 96.6,37.1 96.4,35.6 96.6,34.2 96.6,32.7 96.3,31.5 96.2,30.3 96.1,29.1 94.9,29.4 93.7,29.8 92.2,29.8 90.8,30.0 89.3,29.9 87.7,30.1 86.2,30.6 84.6,30.7"/>
<polygon fill="#FFFFFF" points="113.7,33.8 115.1,34.4 116.6,34.6 117.8,35.2 119.0,35.9 120.3,36.3 121.3,36.9 122.5,37.1 123.5,37.7 124.4,38.5 125.0,39.5 125.7,40.5 126.2,41.5 127.1,42.3 127.6,43.4 127.8,45.2 128.0,46.6 127.1,47.3 126.0,47.8 124.7,48.3 123.3,48.4 122.0,48.8 120.5,49.8 119.6,50.3 118.9,51.0 117.8,50.3 116.6,50.0 115.5,49.9 114.5,49.5 113.4,49.4 112.5,49.0 111.5,48.8 110.4,48.0 109.6,46.8 108.5,46.0 108.9,44.9 109.5,43.8 109.9,42.6 110.4,41.3 110.8,40.1 111.2,38.8 111.7,37.6 112.1,36.3 112.7,35.0"/>
<polygon fill="#FFFFFF" points="107.9,22.0 108.8,21.3 110.0,21.0 111.4,20.6 112.8,20.6 114.4,20.5 115.9,20.8 117.2,20.9 118.5,21.4 119.4,21.9 120.3,22.5 120.9,23.5 121.7,24.3 122.2,25.3 123.4,26.2 124.1,27.5 125.0,28.6 126.1,29.5 127.0,30.6 127.4,31.9 127.8,33.2 128.2,34.7 129.2,35.9 129.6,37.0 130.3,38.0 131.4,38.6 130.0,40.0 128.8,42.0 127.6,43.4 127.1,42.3 126.2,41.5 125.7,40.5 125.0,39.5 124.4,38.5 123.5,37.7 122.5,37.1 121.3,36.9 120.3,36.3 119.0,35.9 117.8,35.2 116.6,34.6 115.1,34.4 113.7,33.8 112.9,32.5 112.3,31.5 111.9,30.4 111.4,29.4 110.8,28.3 110.0,27.3 109.5,26.2 109.1,24.8 108.5,23.4"/>
<polygon fill="#FFFFFF" points="128.0,46.6 129.0,46.7 130.0,46.8 131.2,46.7 132.4,46.6 134.0,47.3 134.6,48.0 134.5,49.1 134.0,50.0 133.5,51.3 133.2,52.6 133.2,53.9 132.8,55.2 133.5,56.6 134.8,57.5 133.2,58.2 131.6,59.2 130.4,60.6 129.3,61.0 128.4,61.8 126.8,62.4 125.6,63.8 124.4,64.0 123.2,64.6 122.0,64.8 120.9,65.2 119.8,65.5 118.7,65.9 117.6,66.2 116.7,65.1 116.0,63.8 115.1,63.0 114.4,62.0 114.2,60.4 113.9,58.8 113.9,57.7 114.4,56.6 114.6,55.5 115.5,54.6 116.3,53.7 117.3,53.0 118.0,52.0 118.9,51.0 119.6,50.3 120.5,49.8 122.0,48.8 123.3,48.4 124.7,48.3 126.0,47.8 127.1,47.3"/>
<polygon fill="#FFFFFF" points="117.6,66.2 118.7,65.9 119.8,65.5 120.9,65.2 122.0,64.8 123.2,64.6 124.4,64.0 125.6,63.8 126.8,62.4 128.4,61.8 129.3,61.0 130.4,60.6 131.6,59.2 133.2,58.2 134.8,57.5 135.7,56.3 136.8,55.2 137.6,54.0 138.8,53.2 139.9,52.3 140.8,51.2 141.8,50.5 142.8,49.8 143.8,49.2 143.9,50.4 143.8,51.6 143.7,52.8 143.4,54.0 143.2,55.0 142.4,55.8 143.8,56.6 145.0,56.0 146.0,55.2 146.7,54.4 147.8,54.2 147.7,55.2 147.0,56.0 146.5,56.9 145.6,57.6 146.2,59.0 144.8,59.8 143.9,60.7 142.8,61.2 142.1,62.0 141.2,62.6 140.5,63.7 139.4,64.4 138.2,65.3 136.8,65.8 135.3,66.2 134.3,66.8 133.1,66.9 132.1,67.5 130.9,67.5 129.6,67.5 128.3,68.0 127.1,68.6 125.8,68.6 124.7,69.1 123.6,69.3 122.5,69.6 121.4,69.8 120.1,70.6 118.5,70.9 117.2,71.3 117.3,69.0"/>
<polygon fill="#FFFFFF" points="127.6,43.4 128.8,42.0 130.0,40.0 131.4,38.6 132.7,38.9 134.0,39.2 134.5,40.2 135.2,41.2 134.9,42.2 134.8,43.2 136.0,44.4 136.9,43.9 138.0,44.0 139.6,44.3 141.2,44.0 142.5,44.5 143.8,44.6 144.6,45.5 145.8,46.0 145.6,47.6 144.5,48.2 143.8,49.2 142.8,49.8 141.8,50.5 140.8,51.2 139.9,52.3 138.8,53.2 137.6,54.0 136.8,55.2 135.7,56.3 134.8,57.5 133.5,56.6 132.8,55.2 133.2,53.9 133.2,52.6 133.5,51.3 134.0,50.0 134.5,49.1 134.6,48.0 134.0,47.3 132.4,46.6 131.2,46.7 130.0,46.8 129.0,46.7 128.0,46.6 127.8,45.2"/>
<polygon fill="#FFFFFF" points="122.6,22.3 123.6,21.4 123.9,20.1 124.7,19.3 125.8,18.8 126.9,18.4 127.9,17.5 129.3,17.5 130.3,16.7 131.4,17.0 132.4,17.6 134.0,17.9 135.4,18.7 136.8,18.8 138.2,19.1 139.4,18.3 140.1,17.1 141.5,16.9 142.7,16.3 143.9,15.5 145.3,15.0 146.2,14.2 147.4,13.9 148.7,15.2 147.8,16.0 147.5,17.0 147.0,18.0 146.0,19.2 145.3,20.6 145.4,21.9 144.9,23.1 145.0,24.6 144.4,25.9 143.6,27.0 143.1,28.3 141.4,27.9 140.9,26.9 140.6,25.8 139.3,24.8 138.0,25.2 136.7,24.7 135.4,25.1 134.1,25.2 132.9,25.6 131.5,26.0 130.3,26.8 129.7,27.8 128.6,28.4 126.9,29.2 126.0,27.9 124.7,27.0 123.6,25.8 123.0,24.3 123.1,23.2"/>
<polygon fill="#FFFFFF" points="29.4,80.4 30.7,78.6 35.4,77.6 40.4,76.7 44.2,75.7 47.9,78.4 51.7,81.5 53.6,84.0 53.9,86.9 53.0,86.1 49.8,83.9 45.4,82.2 41.0,81.7 36.0,82.6 31.0,82.3"/>
<path fill="none" stroke-width="0.75" d="M44.3,76.2 L46.8,78.9 L49.2,80.6 L51.6,83 L53.3,85.2 M45.6,76.4 L48.2,78.2 L50.4,80.6 L52.8,82.6 M53.9,85.6 L53.9,88.1 M52.6,86.6 L55,86.4"/>
<polyline fill="none" points="116.8,21.2 117.5,22.2 118.3,23.2 118.9,24.4 119.7,25.4 120.2,26.6 121.3,27.4 122.1,28.4 122.7,29.6 123.3,30.6 124.1,31.5 124.8,32.5 125.2,33.6 125.9,34.8 126.4,36.0 126.6,37.3 127.1,38.6 127.3,39.9 127.5,41.2"/>
<path fill="#FFFFFF" d="M127.3,29.8 L129.7,30.3 L131.7,33.7 L134.3,37 L132,37.8 L129.4,35.8 L127.8,33.2 Z"/>
<path fill="none" stroke-width="0.8" d="M127.2,29.2 L128.3,31.5 L129.2,33.8 M130.6,29.5 L132.8,32.0 M131.9,34.8 L135,36.1 M134.6,38.2 L135.8,39.2 M134.2,40.8 L135,41.6"/>
<path fill="#222" stroke-width="0.3" d="M127.6,63.4 L128.8,62.4 L130.2,62.4 L129.6,63.4 L128.2,64 Z M142.2,43.5 l1.6,0 l0.4,0.8 l-1.8,0.3z M138,66.6 l0.8,0.3 l-0.6,0.5z M142.1,40.8 l0.7,0.3 l-0.5,0.5z"/>
<path fill="none" d="M147.4,54.3 L148.4,57.5 L148.9,60.3 M148,60.6 L148.6,61.2"/>
<path fill="#8a8420" stroke="#444" stroke-width="0.7" d="M155.6,8.4 L157.4,7.9 L159.5,8.4 L158.4,10.0 L159.8,11.4 L159.2,13.2 L157.4,13.8 L156.2,12.8 L157.4,11.6 L156.6,10.4 L155.4,9.8 Z"/>
<path fill="none" d="M154.4,21.6 L155.6,20.4 L156.6,21.5 L157.8,20.2 M151,15.2 L151.4,16.2 M153.5,7.8 L154.6,8.2 M158.5,18.4 L159.6,18.4 M146,20 L146.3,21 M143.6,29.6 L143.9,30.4"/>
<path fill="#000" stroke-width="0.3" d="M112.5,76.9 l1,0.6 l-1,0.6z M111.3,79.6 l0.8,0.6 l-0.9,0.4z M118.6,76.2 l0.8,0.5 l-0.8,0.5z M135.3,76.5 l1,-1 l0.8,0.6 l-0.6,1.2z M138.2,75.2 l1,0.2 l0.4,1 l-1,0.6z M137,86 l0.9,0.4 l-0.7,0.6z M148.6,84 l0.8,0.6 l-0.5,0.5z M64.9,84 l1,0.5 l-0.9,0.6z M74.4,77.2 l1,0.5 l-1,0.5z"/>
</g>
</g>
<text x="24.4" y="51.5" font-size="5.2" text-anchor="middle" fill="#000">5.3</text>
<text x="55.3" y="52.8" font-size="5.2" text-anchor="middle" fill="#000">5.2</text>
<text x="79.7" y="39.9" font-size="5.2" text-anchor="middle" fill="#000">5.1</text>
<text x="92.9" y="63.6" font-size="5.2" text-anchor="middle" fill="#000">4.0</text>
<text x="104.6" y="37.3" font-size="5.2" text-anchor="middle" fill="#000">3.3</text>
<text x="119.6" y="34.2" font-size="5.2" text-anchor="middle" fill="#000">3.1</text>
<text x="118.3" y="46.8" font-size="5.2" text-anchor="middle" fill="#000">3.1</text>
<text x="131.8" y="24.4" font-size="5.2" text-anchor="middle" fill="#000">3.1</text>
<text x="126.5" y="58.2" font-size="5.2" text-anchor="middle" fill="#000">2.2</text>
<text x="136.5" y="65.5" font-size="5.2" text-anchor="middle" fill="#000">2.1</text>
<text x="139.4" y="49.9" font-size="5.2" text-anchor="middle" fill="#000">1.0</text>
<rect x="0.50" y="1.60" width="160.00" height="5.90" fill="#f9f9f9" stroke="#8a8a8a" stroke-width="0.8"/>
<rect x="0.50" y="1.60" width="160.00" height="88.00" fill="none" stroke="#8a8a8a" stroke-width="0.8"/>
<text x="89.2" y="6.6" font-size="4.60" text-anchor="middle" fill="#000">Program Areas</text>
</g>
<rect x="323.80" y="1.80" width="9.60" height="211.64" fill="#FE0404"/>
<rect x="323.80" y="213.44" width="9.60" height="33.18" fill="#FF5E08"/>
<rect x="323.80" y="246.63" width="9.60" height="6.27" fill="#FF9C14"/>
<rect x="323.80" y="252.90" width="9.60" height="4.44" fill="#F9FF10"/>
<rect x="323.80" y="257.34" width="9.60" height="8.36" fill="#FBFFBC"/>
<rect x="323.80" y="1.80" width="9.60" height="263.90" fill="none" stroke="#333" stroke-width="0.5"/>
<line x1="333.40" x2="335.20" y1="1.80" y2="1.80" stroke="#333" stroke-width="0.5"/>
<text x="339.5" y="4.6" font-size="5.2" fill="#000">10.1</text>
<line x1="333.40" x2="335.20" y1="213.44" y2="213.44" stroke="#333" stroke-width="0.5"/>
<text x="339.5" y="215.3" font-size="5.2" fill="#000">2</text>
<line x1="333.40" x2="335.20" y1="246.63" y2="246.63" stroke="#333" stroke-width="0.5"/>
<text x="339.5" y="247.6" font-size="5.2" fill="#000">0.73</text>
<line x1="333.40" x2="335.20" y1="252.90" y2="252.90" stroke="#333" stroke-width="0.5"/>
<text x="339.5" y="252.6" font-size="5.2" fill="#000">0.49</text>
<line x1="333.40" x2="335.20" y1="257.34" y2="257.34" stroke="#333" stroke-width="0.5"/>
<text x="339.5" y="259.3" font-size="5.2" fill="#000">0.32</text>
<line x1="333.40" x2="335.20" y1="265.70" y2="265.70" stroke="#333" stroke-width="0.5"/>
<text x="339.5" y="266.8" font-size="5.2" fill="#000">0</text>
<g stroke="#111" stroke-width="0.85"><line x1="20" x2="302.3" y1="268.8" y2="268.8"/><line x1="20" x2="302.3" y1="279.3" y2="279.3"/><line x1="20" x2="302.3" y1="352.4" y2="352.4"/></g>
<g font-size="5.25" text-anchor="middle" fill="#000">
<text x="43.0" y="276.2" font-size="5.45">Program Areas</text>
<text x="43.0" y="286.9">1.0</text>
<text x="43.0" y="293.9">2.1</text>
<text x="43.0" y="300.9">2.2</text>
<text x="43.0" y="307.9">3.1</text>
<text x="43.0" y="314.9">3.2</text>
<text x="43.0" y="321.9">3.3</text>
<text x="43.0" y="328.9">4.0</text>
<text x="43.0" y="335.9">5.1</text>
<text x="43.0" y="342.9">5.2</text>
<text x="43.0" y="349.9">5.3</text>
<text x="90.6" y="276.2" font-size="5.45">Infants</text>
<text x="90.6" y="286.9">0.7</text>
<text x="90.6" y="293.9">-</text>
<text x="90.6" y="300.9">-</text>
<text x="90.6" y="307.9">0.4</text>
<text x="90.6" y="314.9">0.9</text>
<text x="90.6" y="321.9">2.2</text>
<text x="90.6" y="328.9">0.3</text>
<text x="90.6" y="335.9">10.0</text>
<text x="90.6" y="342.9">2.1</text>
<text x="90.6" y="349.9">0.4</text>
<text x="139.3" y="276.2" font-size="5.45">Preschoolers</text>
<text x="139.3" y="286.9">0.4</text>
<text x="139.3" y="293.9">-</text>
<text x="139.3" y="300.9">-</text>
<text x="139.3" y="307.9">0.5</text>
<text x="139.3" y="314.9">0.3</text>
<text x="139.3" y="321.9">0.9</text>
<text x="139.3" y="328.9">0.2</text>
<text x="139.3" y="335.9">8.3</text>
<text x="139.3" y="342.9">-</text>
<text x="139.3" y="349.9">0.3</text>
<text x="188.6" y="276.2" font-size="5.45">Schoolchildren</text>
<text x="188.6" y="286.9">0.4</text>
<text x="188.6" y="293.9">-</text>
<text x="188.6" y="300.9">1.1</text>
<text x="188.6" y="307.9">0.5</text>
<text x="188.6" y="314.9">0.4</text>
<text x="188.6" y="321.9">0.2</text>
<text x="188.6" y="328.9">0.3</text>
<text x="188.6" y="335.9">1.0</text>
<text x="188.6" y="342.9">0.5</text>
<text x="188.6" y="349.9">0.4</text>
<text x="237.3" y="276.2" font-size="5.45">Adolescents</text>
<text x="237.3" y="286.5">-</text>
<text x="237.3" y="294.0">-</text>
<text x="237.3" y="300.2">-</text>
<text x="237.3" y="309.8">0.4</text>
<text x="237.3" y="314.6">-</text>
<text x="237.3" y="323.5">0.3</text>
<text x="237.3" y="330.3">0.3</text>
<text x="237.3" y="337.9">1.4</text>
<text x="237.3" y="343.0">-</text>
<text x="237.3" y="349.2">-</text>
<text x="287.0" y="276.2" font-size="5.45">Adults</text>
<text x="287.0" y="286.9">0.3</text>
<text x="287.0" y="293.9">0.1</text>
<text x="287.0" y="300.9">0.5</text>
<text x="287.0" y="307.9">0.5</text>
<text x="287.0" y="314.9">1.1</text>
<text x="287.0" y="321.9">0.8</text>
<text x="287.0" y="328.9">0.3</text>
<text x="287.0" y="335.9">2.8</text>
<text x="287.0" y="342.9">1.1</text>
<text x="287.0" y="349.9">0.1</text>
</g>
</svg></body></html>
